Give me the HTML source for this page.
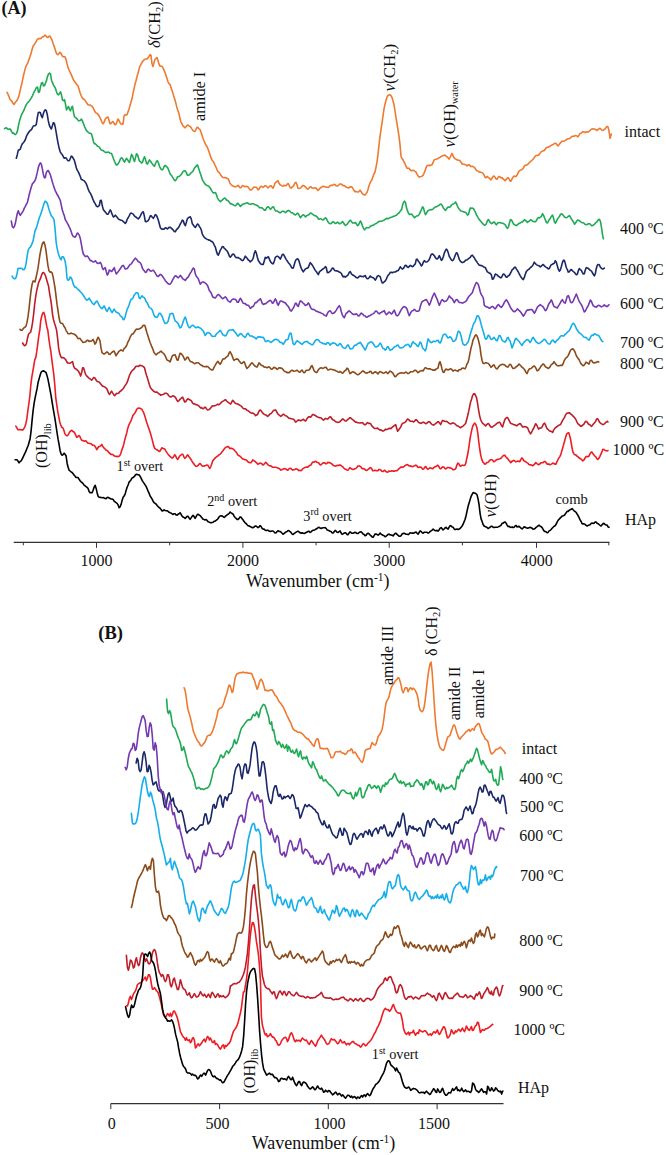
<!DOCTYPE html>
<html><head><meta charset="utf-8"><style>
html,body{margin:0;padding:0;background:#fff;}
svg{display:block;}
text{font-family:"Liberation Serif",serif;fill:#111;}
</style></head><body>
<svg width="666" height="1155" viewBox="0 0 666 1155">
<rect width="666" height="1155" fill="#fff"/>
<polyline points="7.0,92.4 8.0,94.1 9.0,96.8 10.0,99.5 11.0,100.4 12.0,101.5 13.0,103.3 14.0,104.5 15.0,102.8 16.0,101.6 17.0,100.3 18.0,98.4 19.0,95.9 20.0,91.1 21.0,86.9 22.0,82.7 23.0,77.8 24.0,73.5 25.0,69.4 26.0,66.3 27.0,64.4 28.0,62.3 29.0,59.3 30.0,56.7 31.0,53.6 32.0,49.8 33.0,46.3 34.0,45.0 35.0,43.4 36.0,41.8 37.0,39.8 38.0,38.8 39.0,38.6 40.0,38.6 41.0,38.4 42.0,37.3 43.0,36.7 44.0,36.3 45.0,35.1 46.0,35.9 47.0,37.2 48.0,37.4 49.0,36.3 50.0,36.0 51.0,38.2 52.0,40.1 53.0,43.2 54.0,46.1 55.0,49.0 56.0,52.2 57.0,54.1 58.0,54.7 59.0,53.6 60.0,52.3 61.0,53.4 62.0,55.4 63.0,56.7 64.0,56.8 65.0,56.9 66.0,59.2 67.0,63.5 68.0,67.4 69.0,69.8 70.0,72.0 71.0,74.2 72.0,76.4 73.0,78.9 74.0,80.8 75.0,82.0 76.0,83.5 77.0,84.9 78.0,85.8 79.0,89.0 80.0,92.4 81.0,95.3 82.0,97.2 83.0,98.7 84.0,99.2 85.0,100.2 86.0,102.0 87.0,103.3 88.0,104.7 89.0,105.0 90.0,105.1 91.0,105.5 92.0,106.3 93.0,107.6 94.0,109.6 95.0,111.8 96.0,112.9 97.0,113.4 98.0,114.3 99.0,115.8 100.0,117.7 101.0,119.8 102.0,122.3 103.0,123.9 104.0,122.4 105.0,119.7 106.0,118.0 107.0,117.6 108.0,117.0 109.0,120.3 110.0,123.7 111.0,123.5 112.0,122.1 113.0,121.5 114.0,123.3 115.0,124.8 116.0,124.3 117.0,121.7 118.0,119.0 119.0,120.4 120.0,122.8 121.0,124.0 122.0,124.0 123.0,124.2 124.0,116.4 125.0,114.6 126.0,115.1 127.0,114.7 128.0,111.9 129.0,109.3 130.0,105.4 131.0,102.1 132.0,98.8 133.0,93.4 134.0,89.0 135.0,84.4 136.0,80.7 137.0,76.5 138.0,73.3 139.0,69.3 140.0,66.1 141.0,64.4 142.0,62.3 143.0,61.0 144.0,59.9 145.0,59.3 146.0,59.0 147.0,59.0 148.0,57.7 149.0,56.4 150.0,54.5 151.0,55.3 152.0,63.8 153.0,66.6 154.0,62.6 155.0,59.5 156.0,58.3 157.0,57.5 158.0,60.6 159.0,64.2 160.0,66.0 161.0,66.2 162.0,66.4 163.0,67.9 164.0,70.1 165.0,72.5 166.0,75.4 167.0,78.6 168.0,81.8 169.0,83.6 170.0,84.3 171.0,87.5 172.0,90.5 173.0,93.4 174.0,97.1 175.0,100.0 176.0,103.9 177.0,107.9 178.0,110.7 179.0,113.7 180.0,118.8 181.0,122.0 182.0,123.9 183.0,126.1 184.0,126.7 185.0,127.8 186.0,126.8 187.0,125.4 188.0,125.0 189.0,126.0 190.0,126.3 191.0,127.5 192.0,129.1 193.0,130.6 194.0,131.2 195.0,131.5 196.0,129.4 197.0,127.4 198.0,127.6 199.0,128.9 200.0,129.4 201.0,132.2 202.0,135.3 203.0,138.2 204.0,140.8 205.0,143.1 206.0,145.3 207.0,146.5 208.0,149.0 209.0,151.8 210.0,154.7 211.0,157.7 212.0,159.9 213.0,161.2 214.0,162.8 215.0,165.4 216.0,167.2 217.0,169.6 218.0,171.7 219.0,172.2 220.0,173.6 221.0,175.5 222.0,176.7 223.0,177.5 224.0,177.7 225.0,177.6 226.0,177.7 227.0,178.3 228.0,178.7 229.0,180.5 230.0,183.1 231.0,184.5 232.0,185.5 233.0,186.1 234.0,186.4 235.0,186.9 236.0,186.6 237.0,186.0 238.0,185.3 239.0,186.5 240.0,187.8 241.0,187.7 242.0,185.9 243.0,185.6 244.0,186.3 245.0,186.7 246.0,186.4 247.0,186.5 248.0,187.0 249.0,188.4 250.0,189.9 251.0,190.0 252.0,189.4 253.0,188.0 254.0,187.1 255.0,187.2 256.0,187.3 257.0,187.9 258.0,189.8 259.0,189.2 260.0,187.3 261.0,186.2 262.0,186.6 263.0,187.5 264.0,186.6 265.0,185.7 266.0,185.8 267.0,186.8 268.0,188.0 269.0,187.1 270.0,185.9 271.0,185.7 272.0,187.1 273.0,188.1 274.0,186.1 275.0,183.3 276.0,182.1 277.0,181.5 278.0,180.7 279.0,183.3 280.0,184.8 281.0,185.2 282.0,186.0 283.0,186.2 284.0,185.2 285.0,185.8 286.0,185.7 287.0,184.6 288.0,183.4 289.0,185.1 290.0,187.2 291.0,188.2 292.0,187.2 293.0,186.4 294.0,185.1 295.0,182.8 296.0,182.4 297.0,184.7 298.0,188.2 299.0,188.5 300.0,188.2 301.0,187.6 302.0,186.4 303.0,185.4 304.0,185.8 305.0,186.5 306.0,187.6 307.0,188.8 308.0,189.3 309.0,188.1 310.0,186.9 311.0,186.7 312.0,187.9 313.0,188.2 314.0,188.0 315.0,187.9 316.0,188.0 317.0,189.3 318.0,190.5 319.0,189.4 320.0,188.2 321.0,187.5 322.0,187.0 323.0,186.2 324.0,186.5 325.0,186.8 326.0,187.3 327.0,187.3 328.0,187.4 329.0,187.0 330.0,185.7 331.0,185.3 332.0,185.4 333.0,185.0 334.0,184.3 335.0,184.5 336.0,185.8 337.0,186.1 338.0,185.7 339.0,184.7 340.0,184.0 341.0,184.0 342.0,184.6 343.0,185.6 344.0,185.5 345.0,186.2 346.0,187.1 347.0,187.4 348.0,187.8 349.0,187.9 350.0,186.9 351.0,186.7 352.0,187.1 353.0,188.5 354.0,190.5 355.0,191.6 356.0,191.4 357.0,191.8 358.0,192.1 359.0,191.3 360.0,190.2 361.0,191.5 362.0,193.1 363.0,194.2 364.0,194.9 365.0,194.9 366.0,193.8 367.0,192.4 368.0,189.5 369.0,185.8 370.0,183.2 371.0,181.0 372.0,179.8 373.0,176.3 374.0,173.8 375.0,172.0 376.0,167.3 377.0,161.8 378.0,154.4 379.0,145.1 380.0,136.4 381.0,129.7 382.0,123.2 383.0,116.1 384.0,108.9 385.0,104.2 386.0,100.2 387.0,97.2 388.0,95.5 389.0,94.9 390.0,94.9 391.0,95.7 392.0,97.5 393.0,100.7 394.0,104.5 395.0,111.0 396.0,117.5 397.0,123.7 398.0,129.8 399.0,136.4 400.0,144.6 401.0,156.3 402.0,158.5 403.0,159.8 404.0,162.0 405.0,163.7 406.0,166.1 407.0,168.1 408.0,168.3 409.0,168.3 410.0,169.7 411.0,170.6 412.0,170.6 413.0,170.3 414.0,170.5 415.0,171.3 416.0,172.0 417.0,174.1 418.0,175.7 419.0,177.1 420.0,176.7 421.0,176.5 422.0,176.2 423.0,175.4 424.0,173.3 425.0,170.9 426.0,167.8 427.0,165.7 428.0,165.2 429.0,165.4 430.0,165.6 431.0,165.0 432.0,164.8 433.0,162.7 434.0,160.1 435.0,159.5 436.0,159.3 437.0,159.0 438.0,158.4 439.0,157.8 440.0,157.4 441.0,156.6 442.0,156.0 443.0,155.9 444.0,155.3 445.0,155.1 446.0,156.1 447.0,156.8 448.0,157.7 449.0,159.1 450.0,157.6 451.0,155.3 452.0,153.4 453.0,155.6 454.0,157.7 455.0,158.6 456.0,159.3 457.0,159.7 458.0,160.2 459.0,160.2 460.0,160.8 461.0,162.3 462.0,163.7 463.0,164.3 464.0,164.2 465.0,164.6 466.0,164.9 467.0,165.9 468.0,165.2 469.0,164.6 470.0,165.7 471.0,166.6 472.0,166.3 473.0,166.6 474.0,167.1 475.0,168.1 476.0,169.8 477.0,170.7 478.0,171.1 479.0,171.9 480.0,172.1 481.0,172.5 482.0,172.5 483.0,173.4 484.0,174.9 485.0,177.1 486.0,177.8 487.0,176.4 488.0,177.2 489.0,177.9 490.0,178.8 491.0,179.9 492.0,178.2 493.0,176.7 494.0,176.0 495.0,177.2 496.0,178.9 497.0,179.3 498.0,177.6 499.0,176.4 500.0,176.9 501.0,177.9 502.0,177.6 503.0,178.9 504.0,179.7 505.0,180.8 506.0,179.6 507.0,178.5 508.0,177.6 509.0,178.9 510.0,180.9 511.0,181.1 512.0,179.0 513.0,177.2 514.0,176.1 515.0,176.4 516.0,176.5 517.0,175.2 518.0,173.2 519.0,171.1 520.0,170.4 521.0,169.9 522.0,169.5 523.0,168.6 524.0,166.7 525.0,165.4 526.0,165.3 527.0,164.8 528.0,164.1 529.0,163.1 530.0,161.9 531.0,161.3 532.0,160.3 533.0,159.2 534.0,157.9 535.0,156.5 536.0,155.5 537.0,155.4 538.0,155.2 539.0,154.8 540.0,153.4 541.0,151.9 542.0,151.4 543.0,150.8 544.0,150.6 545.0,149.6 546.0,148.0 547.0,147.4 548.0,147.4 549.0,146.8 550.0,146.2 551.0,145.6 552.0,144.9 553.0,144.5 554.0,143.9 555.0,143.3 556.0,143.4 557.0,144.9 558.0,146.0 559.0,144.8 560.0,143.4 561.0,142.1 562.0,141.2 563.0,141.3 564.0,141.1 565.0,140.6 566.0,140.0 567.0,139.2 568.0,138.8 569.0,138.7 570.0,138.2 571.0,137.3 572.0,136.3 573.0,136.4 574.0,136.3 575.0,135.6 576.0,135.8 577.0,136.0 578.0,136.8 579.0,135.2 580.0,133.5 581.0,133.2 582.0,132.4 583.0,131.8 584.0,132.1 585.0,132.5 586.0,132.0 587.0,131.8 588.0,132.0 589.0,131.5 590.0,130.5 591.0,129.7 592.0,129.0 593.0,128.9 594.0,129.0 595.0,129.2 596.0,129.8 597.0,130.5 598.0,129.5 599.0,128.8 600.0,128.3 601.0,129.2 602.0,130.2 603.0,130.5 604.0,129.7 605.0,129.0 606.0,127.6 607.0,126.4 608.0,126.9 609.0,130.9 610.0,138.3 611.0,135.2 611.3,134.1" fill="none" stroke="#EE7A30" stroke-width="1.6" stroke-linejoin="round" stroke-linecap="round"/>
<polyline points="4.5,128.6 5.5,128.0 6.5,127.9 7.5,129.0 8.5,129.4 9.5,128.9 10.5,129.3 11.5,131.4 12.5,133.2 13.5,132.9 14.5,134.3 15.5,134.6 16.5,133.4 17.5,130.9 18.5,125.3 19.5,120.9 20.5,117.7 21.5,114.8 22.5,112.8 23.5,111.2 24.5,108.7 25.5,106.4 26.5,104.4 27.5,102.9 28.5,101.8 29.5,100.7 30.5,99.1 31.5,97.7 32.5,95.6 33.5,93.3 34.5,91.1 35.5,89.3 36.5,87.4 37.5,87.1 38.5,92.5 39.5,91.8 40.5,86.6 41.5,83.0 42.5,82.5 43.5,85.9 44.5,85.6 45.5,83.0 46.5,80.6 47.5,76.4 48.5,74.1 49.5,73.0 50.5,73.8 51.5,80.2 52.5,82.6 53.5,85.1 54.5,86.7 55.5,88.5 56.5,91.7 57.5,94.2 58.5,94.8 59.5,93.5 60.5,91.8 61.5,95.1 62.5,100.0 63.5,100.7 64.5,99.7 65.5,104.1 66.5,109.9 67.5,108.1 68.5,106.5 69.5,109.4 70.5,110.9 71.5,107.4 72.5,106.4 73.5,112.3 74.5,116.9 75.5,117.4 76.5,118.3 77.5,119.5 78.5,120.7 79.5,120.8 80.5,120.1 81.5,119.1 82.5,121.1 83.5,123.7 84.5,126.6 85.5,128.7 86.5,130.7 87.5,131.6 88.5,132.5 89.5,133.3 90.5,133.3 91.5,134.0 92.5,137.5 93.5,141.8 94.5,143.8 95.5,143.9 96.5,145.1 97.5,146.3 98.5,146.5 99.5,147.4 100.5,149.0 101.5,150.1 102.5,150.4 103.5,150.7 104.5,151.9 105.5,152.4 106.5,152.4 107.5,152.3 108.5,152.0 109.5,152.9 110.5,153.2 111.5,153.5 112.5,156.0 113.5,158.8 114.5,161.3 115.5,163.5 116.5,165.1 117.5,164.6 118.5,163.1 119.5,161.3 120.5,158.8 121.5,157.7 122.5,158.5 123.5,160.7 124.5,162.1 125.5,160.2 126.5,158.4 127.5,159.5 128.5,161.4 129.5,162.4 130.5,158.5 131.5,154.4 132.5,155.7 133.5,159.1 134.5,161.5 135.5,157.6 136.5,153.8 137.5,154.6 138.5,158.0 139.5,161.2 140.5,161.6 141.5,163.0 142.5,162.3 143.5,159.0 144.5,156.8 145.5,159.6 146.5,163.3 147.5,164.1 148.5,161.8 149.5,159.9 150.5,161.2 151.5,162.7 152.5,164.1 153.5,165.5 154.5,166.3 155.5,163.5 156.5,161.2 157.5,160.8 158.5,163.1 159.5,166.3 160.5,168.3 161.5,169.7 162.5,169.8 163.5,168.1 164.5,165.7 165.5,165.4 166.5,166.8 167.5,167.3 168.5,169.7 169.5,172.3 170.5,174.6 171.5,175.3 172.5,177.1 173.5,178.6 174.5,180.4 175.5,180.7 176.5,179.1 177.5,176.8 178.5,176.7 179.5,176.1 180.5,175.3 181.5,174.2 182.5,172.3 183.5,171.2 184.5,170.8 185.5,171.0 186.5,173.1 187.5,175.3 188.5,175.1 189.5,174.7 190.5,173.4 191.5,172.2 192.5,172.0 193.5,170.1 194.5,168.1 195.5,166.9 196.5,165.9 197.5,164.9 198.5,167.9 199.5,171.0 200.5,174.1 201.5,177.1 202.5,180.1 203.5,181.7 204.5,183.4 205.5,184.5 206.5,185.1 207.5,185.7 208.5,186.0 209.5,187.2 210.5,188.5 211.5,190.3 212.5,191.9 213.5,193.1 214.5,192.7 215.5,192.5 216.5,194.9 217.5,198.1 218.5,199.7 219.5,200.8 220.5,201.6 221.5,200.6 222.5,199.9 223.5,198.8 224.5,198.1 225.5,198.5 226.5,200.1 227.5,200.3 228.5,201.2 229.5,202.5 230.5,203.9 231.5,203.8 232.5,204.4 233.5,205.1 234.5,205.4 235.5,205.8 236.5,204.8 237.5,203.3 238.5,203.8 239.5,205.4 240.5,206.4 241.5,205.4 242.5,204.2 243.5,204.0 244.5,203.9 245.5,203.3 246.5,203.0 247.5,202.8 248.5,203.7 249.5,204.1 250.5,204.4 251.5,203.9 252.5,203.7 253.5,203.7 254.5,204.4 255.5,204.7 256.5,205.4 257.5,205.6 258.5,206.4 259.5,207.8 260.5,207.8 261.5,207.7 262.5,208.3 263.5,209.3 264.5,210.2 265.5,210.2 266.5,208.0 267.5,206.8 268.5,206.9 269.5,208.1 270.5,209.3 271.5,208.2 272.5,207.0 273.5,206.8 274.5,209.0 275.5,211.0 276.5,211.0 277.5,211.1 278.5,211.8 279.5,212.7 280.5,212.7 281.5,211.8 282.5,211.2 283.5,211.2 284.5,211.7 285.5,212.7 286.5,211.7 287.5,210.8 288.5,210.4 289.5,210.9 290.5,212.0 291.5,212.8 292.5,212.9 293.5,213.7 294.5,214.6 295.5,214.9 296.5,214.1 297.5,213.1 298.5,214.0 299.5,216.3 300.5,217.7 301.5,216.2 302.5,215.2 303.5,214.8 304.5,215.8 305.5,216.9 306.5,215.8 307.5,215.4 308.5,214.8 309.5,214.3 310.5,213.0 311.5,213.2 312.5,214.2 313.5,215.0 314.5,215.4 315.5,215.8 316.5,216.4 317.5,217.4 318.5,219.2 319.5,219.1 320.5,218.6 321.5,219.1 322.5,220.0 323.5,219.7 324.5,218.5 325.5,217.8 326.5,218.8 327.5,220.8 328.5,222.6 329.5,223.5 330.5,223.7 331.5,223.3 332.5,221.9 333.5,221.9 334.5,222.8 335.5,223.5 336.5,223.0 337.5,222.0 338.5,222.9 339.5,223.8 340.5,223.5 341.5,222.6 342.5,221.6 343.5,222.7 344.5,224.5 345.5,225.4 346.5,224.6 347.5,223.8 348.5,222.2 349.5,220.9 350.5,220.2 351.5,221.6 352.5,223.0 353.5,223.0 354.5,222.9 355.5,222.5 356.5,224.1 357.5,225.7 358.5,225.0 359.5,222.8 360.5,221.0 361.5,223.1 362.5,226.1 363.5,228.2 364.5,229.8 365.5,228.8 366.5,227.6 367.5,227.7 368.5,227.7 369.5,227.4 370.5,226.0 371.5,225.9 372.5,225.3 373.5,225.2 374.5,224.4 375.5,223.7 376.5,223.4 377.5,222.5 378.5,221.8 379.5,221.2 380.5,221.3 381.5,221.3 382.5,221.0 383.5,220.2 384.5,219.9 385.5,219.0 386.5,218.4 387.5,218.6 388.5,218.6 389.5,217.9 390.5,217.5 391.5,217.3 392.5,216.8 393.5,216.2 394.5,216.1 395.5,215.6 396.5,215.2 397.5,214.0 398.5,213.4 399.5,212.3 400.5,210.7 401.5,209.8 402.5,205.6 403.5,202.4 404.5,201.2 405.5,202.4 406.5,207.8 407.5,210.9 408.5,213.2 409.5,214.6 410.5,214.3 411.5,214.0 412.5,215.2 413.5,216.4 414.5,217.7 415.5,216.8 416.5,216.0 417.5,215.8 418.5,215.4 419.5,213.9 420.5,211.6 421.5,209.5 422.5,206.9 423.5,207.9 424.5,212.0 425.5,214.6 426.5,213.2 427.5,211.2 428.5,210.5 429.5,210.0 430.5,209.7 431.5,209.6 432.5,209.5 433.5,208.5 434.5,207.6 435.5,206.9 436.5,206.7 437.5,206.1 438.5,205.7 439.5,204.9 440.5,204.1 441.5,204.5 442.5,206.2 443.5,208.2 444.5,209.2 445.5,210.4 446.5,209.0 447.5,207.3 448.5,207.1 449.5,207.5 450.5,206.5 451.5,205.0 452.5,204.2 453.5,203.9 454.5,203.4 455.5,202.0 456.5,203.7 457.5,206.3 458.5,208.2 459.5,209.4 460.5,210.8 461.5,211.1 462.5,211.5 463.5,211.7 464.5,212.3 465.5,212.2 466.5,213.5 467.5,215.1 468.5,214.3 469.5,210.4 470.5,207.9 471.5,208.2 472.5,208.1 473.5,208.7 474.5,210.7 475.5,212.3 476.5,215.0 477.5,216.5 478.5,218.5 479.5,219.9 480.5,221.0 481.5,222.2 482.5,223.4 483.5,224.5 484.5,225.1 485.5,224.9 486.5,223.3 487.5,220.4 488.5,219.6 489.5,221.3 490.5,222.7 491.5,223.6 492.5,223.2 493.5,222.1 494.5,222.1 495.5,224.0 496.5,224.8 497.5,223.1 498.5,222.7 499.5,222.6 500.5,222.8 501.5,223.0 502.5,223.2 503.5,223.6 504.5,224.2 505.5,225.3 506.5,227.2 507.5,228.4 508.5,226.8 509.5,222.8 510.5,219.5 511.5,219.9 512.5,221.8 513.5,224.0 514.5,224.6 515.5,225.3 516.5,225.6 517.5,224.7 518.5,223.8 519.5,223.3 520.5,222.8 521.5,222.0 522.5,221.9 523.5,220.9 524.5,219.7 525.5,220.4 526.5,221.4 527.5,222.4 528.5,221.5 529.5,221.0 530.5,219.8 531.5,220.1 532.5,221.3 533.5,221.5 534.5,221.6 535.5,221.7 536.5,220.4 537.5,218.4 538.5,217.5 539.5,217.9 540.5,217.1 541.5,216.1 542.5,213.7 543.5,215.2 544.5,217.8 545.5,220.1 546.5,222.6 547.5,223.0 548.5,221.0 549.5,219.2 550.5,217.9 551.5,216.2 552.5,215.1 553.5,218.1 554.5,222.0 555.5,223.2 556.5,221.2 557.5,219.1 558.5,217.6 559.5,216.4 560.5,214.4 561.5,213.8 562.5,214.4 563.5,215.6 564.5,217.0 565.5,217.5 566.5,217.8 567.5,217.0 568.5,216.2 569.5,215.7 570.5,217.4 571.5,219.2 572.5,220.5 573.5,222.2 574.5,224.2 575.5,223.0 576.5,221.5 577.5,220.1 578.5,220.2 579.5,220.8 580.5,221.7 581.5,222.4 582.5,222.7 583.5,222.8 584.5,223.8 585.5,224.5 586.5,224.8 587.5,224.3 588.5,223.7 589.5,223.8 590.5,224.4 591.5,225.8 592.5,225.6 593.5,225.0 594.5,224.2 595.5,223.0 596.5,222.1 597.5,221.2 598.5,219.5 599.5,219.4 600.5,221.6 601.5,227.6 602.5,234.6 603.4,238.8" fill="none" stroke="#1FAA55" stroke-width="1.6" stroke-linejoin="round" stroke-linecap="round"/>
<polyline points="16.3,158.2 17.3,154.7 18.3,150.1 19.3,149.9 20.3,149.1 21.3,146.0 22.3,143.8 23.3,142.7 24.3,141.5 25.3,139.7 26.3,136.7 27.3,134.5 28.3,133.0 29.3,131.5 30.3,130.4 31.3,129.8 32.3,128.0 33.3,126.0 34.3,125.7 35.3,125.6 36.3,124.4 37.3,117.6 38.3,112.6 39.3,112.4 40.3,112.5 41.3,115.8 42.3,117.7 43.3,113.8 44.3,111.0 45.3,109.8 46.3,110.7 47.3,114.7 48.3,120.9 49.3,125.1 50.3,127.4 51.3,129.0 52.3,125.9 53.3,122.8 54.3,123.3 55.3,127.4 56.3,133.1 57.3,139.1 58.3,144.3 59.3,148.8 60.3,152.1 61.3,153.5 62.3,154.7 63.3,156.7 64.3,158.2 65.3,157.8 66.3,158.0 67.3,160.0 68.3,160.8 69.3,160.8 70.3,158.5 71.3,156.1 72.3,156.7 73.3,158.5 74.3,160.2 75.3,163.7 76.3,167.8 77.3,170.4 78.3,171.9 79.3,174.1 80.3,176.5 81.3,179.4 82.3,179.7 83.3,180.4 84.3,180.9 85.3,182.2 86.3,183.9 87.3,186.5 88.3,189.4 89.3,191.7 90.3,193.1 91.3,195.1 92.3,197.6 93.3,200.1 94.3,202.4 95.3,203.8 96.3,205.8 97.3,206.7 98.3,206.5 99.3,205.5 100.3,200.5 101.3,200.4 102.3,205.8 103.3,209.6 104.3,210.9 105.3,212.0 106.3,213.4 107.3,214.3 108.3,214.0 109.3,211.7 110.3,209.9 111.3,211.9 112.3,214.7 113.3,216.9 114.3,216.6 115.3,215.2 116.3,216.3 117.3,217.5 118.3,218.9 119.3,219.6 120.3,219.9 121.3,220.3 122.3,220.5 123.3,221.7 124.3,222.4 125.3,223.5 126.3,221.9 127.3,219.1 128.3,217.5 129.3,215.6 130.3,213.5 131.3,213.1 132.3,213.6 133.3,214.1 134.3,215.8 135.3,216.7 136.3,217.3 137.3,218.3 138.3,218.9 139.3,217.8 140.3,216.2 141.3,213.9 142.3,212.4 143.3,211.8 144.3,215.9 145.3,221.4 146.3,221.7 147.3,221.1 148.3,220.5 149.3,218.3 150.3,215.9 151.3,215.9 152.3,217.2 153.3,218.3 154.3,216.6 155.3,214.6 156.3,215.1 157.3,217.4 158.3,220.0 159.3,223.8 160.3,227.5 161.3,228.9 162.3,229.1 163.3,229.1 164.3,228.9 165.3,227.7 166.3,228.0 167.3,229.0 168.3,228.1 169.3,227.2 170.3,227.4 171.3,228.2 172.3,229.1 173.3,230.1 174.3,231.5 175.3,231.8 176.3,229.9 177.3,228.9 178.3,227.9 179.3,226.1 180.3,223.9 181.3,222.3 182.3,220.2 183.3,220.7 184.3,224.0 185.3,225.7 186.3,222.5 187.3,218.9 188.3,217.7 189.3,217.2 190.3,216.8 191.3,219.1 192.3,223.7 193.3,225.0 194.3,226.5 195.3,227.5 196.3,226.0 197.3,224.0 198.3,224.4 199.3,226.5 200.3,227.7 201.3,230.0 202.3,234.0 203.3,235.9 204.3,237.3 205.3,238.2 206.3,238.9 207.3,239.4 208.3,239.9 209.3,240.1 210.3,240.5 211.3,241.4 212.3,241.6 213.3,243.0 214.3,245.3 215.3,247.0 216.3,250.7 217.3,254.1 218.3,255.1 219.3,252.9 220.3,250.1 221.3,248.6 222.3,246.6 223.3,246.7 224.3,248.4 225.3,249.1 226.3,250.2 227.3,251.2 228.3,253.4 229.3,255.9 230.3,257.2 231.3,256.0 232.3,254.5 233.3,254.0 234.3,254.9 235.3,256.8 236.3,257.8 237.3,257.6 238.3,257.6 239.3,258.4 240.3,258.9 241.3,259.9 242.3,260.6 243.3,260.2 244.3,258.4 245.3,256.2 246.3,257.3 247.3,258.5 248.3,260.0 249.3,260.7 250.3,261.9 251.3,260.8 252.3,260.0 253.3,257.7 254.3,253.3 255.3,250.8 256.3,252.9 257.3,257.0 258.3,260.5 259.3,262.0 260.3,263.5 261.3,264.3 262.3,264.4 263.3,264.4 264.3,260.8 265.3,257.3 266.3,258.2 267.3,257.5 268.3,256.7 269.3,258.9 270.3,261.3 271.3,262.7 272.3,263.6 273.3,263.8 274.3,261.0 275.3,257.4 276.3,256.6 277.3,256.1 278.3,256.6 279.3,257.7 280.3,259.1 281.3,256.9 282.3,254.5 283.3,254.2 284.3,255.8 285.3,257.9 286.3,259.6 287.3,261.0 288.3,262.7 289.3,263.7 290.3,265.1 291.3,266.9 292.3,268.2 293.3,268.0 294.3,264.6 295.3,261.1 296.3,259.4 297.3,258.9 298.3,259.3 299.3,262.0 300.3,265.6 301.3,268.3 302.3,270.3 303.3,271.8 304.3,270.4 305.3,269.1 306.3,268.4 307.3,268.3 308.3,267.4 309.3,264.9 310.3,262.7 311.3,263.7 312.3,265.2 313.3,266.8 314.3,268.6 315.3,270.5 316.3,271.5 317.3,273.2 318.3,274.6 319.3,272.1 320.3,271.0 321.3,270.4 322.3,269.4 323.3,268.8 324.3,268.0 325.3,266.6 326.3,267.6 327.3,272.5 328.3,272.7 329.3,272.0 330.3,271.2 331.3,269.8 332.3,268.1 333.3,268.2 334.3,270.0 335.3,270.8 336.3,270.9 337.3,271.0 338.3,271.5 339.3,272.1 340.3,272.5 341.3,273.3 342.3,275.6 343.3,276.9 344.3,276.3 345.3,277.1 346.3,276.4 347.3,275.7 348.3,274.5 349.3,272.3 350.3,271.7 351.3,273.7 352.3,274.7 353.3,275.3 354.3,275.9 355.3,276.6 356.3,277.6 357.3,277.9 358.3,277.6 359.3,276.3 360.3,276.0 361.3,276.4 362.3,276.5 363.3,276.8 364.3,275.9 365.3,275.6 366.3,277.8 367.3,278.8 368.3,278.4 369.3,277.5 370.3,276.0 371.3,277.1 372.3,277.4 373.3,277.7 374.3,278.8 375.3,280.1 376.3,278.3 377.3,276.1 378.3,275.6 379.3,276.1 380.3,276.9 381.3,280.6 382.3,283.0 383.3,282.8 384.3,281.7 385.3,281.0 386.3,279.1 387.3,276.7 388.3,275.1 389.3,274.0 390.3,272.4 391.3,272.3 392.3,272.7 393.3,272.2 394.3,272.0 395.3,272.0 396.3,271.3 397.3,270.8 398.3,270.5 399.3,268.7 400.3,266.8 401.3,268.0 402.3,269.0 403.3,268.5 404.3,267.0 405.3,265.2 406.3,265.5 407.3,267.0 408.3,267.4 409.3,266.4 410.3,265.4 411.3,266.0 412.3,266.7 413.3,266.3 414.3,264.9 415.3,263.9 416.3,259.3 417.3,259.2 418.3,261.2 419.3,262.3 420.3,264.0 421.3,266.0 422.3,264.9 423.3,262.3 424.3,260.6 425.3,261.8 426.3,262.0 427.3,261.8 428.3,260.8 429.3,259.5 430.3,256.7 431.3,254.2 432.3,253.9 433.3,254.6 434.3,255.7 435.3,257.5 436.3,258.8 437.3,258.9 438.3,257.7 439.3,255.6 440.3,257.8 441.3,260.3 442.3,259.6 443.3,256.7 444.3,253.1 445.3,250.7 446.3,249.2 447.3,250.1 448.3,252.9 449.3,256.5 450.3,258.0 451.3,259.9 452.3,260.7 453.3,260.0 454.3,257.8 455.3,255.0 456.3,252.8 457.3,253.2 458.3,256.2 459.3,259.4 460.3,261.1 461.3,262.0 462.3,262.6 463.3,262.2 464.3,261.8 465.3,260.5 466.3,260.1 467.3,259.7 468.3,258.9 469.3,258.0 470.3,257.4 471.3,255.7 472.3,255.1 473.3,256.5 474.3,257.8 475.3,259.7 476.3,261.0 477.3,262.6 478.3,264.1 479.3,265.3 480.3,265.4 481.3,265.6 482.3,265.9 483.3,266.7 484.3,267.2 485.3,267.6 486.3,269.7 487.3,271.9 488.3,272.4 489.3,273.2 490.3,273.4 491.3,274.7 492.3,279.1 493.3,278.9 494.3,276.6 495.3,274.0 496.3,274.6 497.3,275.0 498.3,276.3 499.3,276.8 500.3,277.7 501.3,277.7 502.3,275.8 503.3,274.0 504.3,274.2 505.3,275.8 506.3,277.3 507.3,276.9 508.3,275.8 509.3,275.3 510.3,273.5 511.3,271.7 512.3,269.5 513.3,269.1 514.3,267.4 515.3,267.0 516.3,268.9 517.3,270.4 518.3,272.0 519.3,274.0 520.3,275.8 521.3,277.5 522.3,278.8 523.3,279.6 524.3,277.4 525.3,274.3 526.3,271.6 527.3,270.4 528.3,269.7 529.3,269.0 530.3,267.6 531.3,267.0 532.3,266.0 533.3,264.3 534.3,262.2 535.3,263.4 536.3,264.6 537.3,265.1 538.3,265.6 539.3,265.9 540.3,266.9 541.3,266.1 542.3,265.2 543.3,264.5 544.3,265.8 545.3,266.7 546.3,267.5 547.3,267.8 548.3,269.0 549.3,268.5 550.3,266.3 551.3,264.7 552.3,264.3 553.3,263.8 554.3,263.1 555.3,260.7 556.3,262.1 557.3,265.7 558.3,269.2 559.3,271.2 560.3,270.0 561.3,266.8 562.3,262.9 563.3,260.3 564.3,260.3 565.3,263.6 566.3,267.5 567.3,269.5 568.3,272.1 569.3,271.8 570.3,270.2 571.3,269.5 572.3,270.6 573.3,271.5 574.3,272.3 575.3,273.6 576.3,274.7 577.3,274.4 578.3,270.7 579.3,268.7 580.3,269.6 581.3,270.4 582.3,272.3 583.3,274.0 584.3,273.8 585.3,270.0 586.3,267.6 587.3,268.1 588.3,268.2 589.3,269.4 590.3,270.4 591.3,270.9 592.3,272.5 593.3,274.3 594.3,275.8 595.3,273.8 596.3,268.4 597.3,265.2 598.3,264.5 599.3,264.8 600.3,267.0 601.3,268.1 602.3,269.0 603.3,268.9 604.3,268.1" fill="none" stroke="#1A2868" stroke-width="1.6" stroke-linejoin="round" stroke-linecap="round"/>
<polyline points="11.3,221.0 12.3,226.6 13.3,227.8 14.3,226.8 15.3,223.6 16.3,218.3 17.3,213.5 18.3,210.8 19.3,213.7 20.3,215.3 21.3,213.7 22.3,212.4 23.3,210.6 24.3,208.1 25.3,206.3 26.3,204.3 27.3,202.9 28.3,198.8 29.3,194.2 30.3,190.5 31.3,187.1 32.3,183.9 33.3,182.9 34.3,181.6 35.3,179.9 36.3,176.5 37.3,172.4 38.3,167.6 39.3,164.7 40.3,162.9 41.3,164.0 42.3,168.6 43.3,174.0 44.3,177.6 45.3,177.7 46.3,172.7 47.3,171.0 48.3,170.5 49.3,172.6 50.3,174.7 51.3,178.0 52.3,181.8 53.3,185.0 54.3,187.9 55.3,190.8 56.3,192.7 57.3,194.8 58.3,196.3 59.3,198.3 60.3,200.5 61.3,205.3 62.3,210.0 63.3,213.1 64.3,215.8 65.3,219.7 66.3,221.4 67.3,223.2 68.3,224.9 69.3,227.1 70.3,229.1 71.3,232.0 72.3,234.9 73.3,236.5 74.3,236.7 75.3,237.2 76.3,235.2 77.3,233.0 78.3,233.7 79.3,235.3 80.3,238.4 81.3,243.8 82.3,249.7 83.3,254.0 84.3,255.2 85.3,256.6 86.3,256.3 87.3,256.0 88.3,257.2 89.3,258.8 90.3,260.6 91.3,260.6 92.3,261.4 93.3,262.0 94.3,261.8 95.3,260.8 96.3,262.0 97.3,263.3 98.3,263.5 99.3,263.1 100.3,262.3 101.3,264.1 102.3,267.8 103.3,269.6 104.3,268.4 105.3,267.7 106.3,271.7 107.3,275.1 108.3,273.5 109.3,270.0 110.3,270.4 111.3,271.5 112.3,270.8 113.3,269.0 114.3,267.6 115.3,271.3 116.3,273.9 117.3,272.7 118.3,271.5 119.3,270.1 120.3,268.8 121.3,267.1 122.3,265.8 123.3,265.4 124.3,267.2 125.3,269.1 126.3,268.8 127.3,268.4 128.3,267.1 129.3,265.5 130.3,264.4 131.3,263.9 132.3,262.3 133.3,260.7 134.3,259.4 135.3,258.2 136.3,259.0 137.3,260.2 138.3,261.7 139.3,262.0 140.3,262.8 141.3,264.7 142.3,267.9 143.3,269.8 144.3,270.8 145.3,272.4 146.3,272.1 147.3,270.1 148.3,269.1 149.3,269.7 150.3,270.9 151.3,271.1 152.3,270.6 153.3,270.3 154.3,271.6 155.3,273.0 156.3,274.9 157.3,276.3 158.3,276.4 159.3,275.4 160.3,274.4 161.3,274.9 162.3,276.0 163.3,277.5 164.3,278.9 165.3,280.7 166.3,281.8 167.3,282.9 168.3,283.8 169.3,284.2 170.3,284.0 171.3,282.6 172.3,280.7 173.3,278.7 174.3,277.1 175.3,275.8 176.3,276.0 177.3,277.2 178.3,277.8 179.3,276.8 180.3,275.4 181.3,276.5 182.3,278.2 183.3,279.1 184.3,279.7 185.3,280.5 186.3,278.9 187.3,277.9 188.3,276.9 189.3,274.9 190.3,273.2 191.3,271.6 192.3,269.6 193.3,268.0 194.3,268.8 195.3,273.8 196.3,276.2 197.3,277.4 198.3,278.8 199.3,281.6 200.3,284.1 201.3,283.0 202.3,282.0 203.3,282.0 204.3,282.4 205.3,283.2 206.3,283.9 207.3,285.2 208.3,287.4 209.3,290.5 210.3,291.8 211.3,293.2 212.3,296.0 213.3,297.5 214.3,297.5 215.3,298.0 216.3,296.6 217.3,295.1 218.3,294.5 219.3,295.1 220.3,296.2 221.3,297.4 222.3,298.6 223.3,298.4 224.3,297.6 225.3,296.8 226.3,297.8 227.3,299.7 228.3,301.1 229.3,301.6 230.3,302.2 231.3,300.5 232.3,299.5 233.3,299.1 234.3,299.3 235.3,299.3 236.3,300.4 237.3,302.3 238.3,302.3 239.3,300.1 240.3,298.3 241.3,299.6 242.3,301.7 243.3,303.3 244.3,303.6 245.3,303.6 246.3,304.7 247.3,305.3 248.3,305.2 249.3,306.5 250.3,308.5 251.3,307.6 252.3,306.6 253.3,306.5 254.3,304.5 255.3,302.5 256.3,302.6 257.3,301.6 258.3,300.5 259.3,299.8 260.3,298.7 261.3,300.7 262.3,303.5 263.3,304.5 264.3,303.9 265.3,303.9 266.3,303.1 267.3,302.3 268.3,301.5 269.3,300.8 270.3,300.2 271.3,301.2 272.3,303.1 273.3,303.0 274.3,300.8 275.3,298.8 276.3,300.6 277.3,303.8 278.3,305.3 279.3,302.9 280.3,301.0 281.3,301.0 282.3,301.4 283.3,302.0 284.3,302.6 285.3,302.7 286.3,304.2 287.3,305.4 288.3,306.5 289.3,308.3 290.3,310.6 291.3,311.1 292.3,309.3 293.3,308.3 294.3,306.0 295.3,303.3 296.3,303.4 297.3,305.6 298.3,306.4 299.3,303.2 300.3,300.9 301.3,301.3 302.3,302.2 303.3,303.3 304.3,304.1 305.3,305.4 306.3,305.1 307.3,304.5 308.3,302.9 309.3,304.3 310.3,307.0 311.3,308.6 312.3,309.5 313.3,309.3 314.3,309.7 315.3,310.5 316.3,311.3 317.3,311.4 318.3,312.1 319.3,312.4 320.3,312.5 321.3,313.1 322.3,313.6 323.3,314.1 324.3,315.2 325.3,315.6 326.3,316.1 327.3,313.6 328.3,311.9 329.3,311.0 330.3,310.9 331.3,312.4 332.3,313.6 333.3,313.3 334.3,312.7 335.3,311.6 336.3,310.1 337.3,308.3 338.3,307.1 339.3,305.6 340.3,307.3 341.3,311.7 342.3,314.8 343.3,316.7 344.3,317.7 345.3,315.3 346.3,313.0 347.3,312.7 348.3,311.2 349.3,310.9 350.3,311.8 351.3,312.8 352.3,313.8 353.3,314.4 354.3,314.3 355.3,314.4 356.3,313.8 357.3,314.7 358.3,315.9 359.3,315.8 360.3,314.1 361.3,313.1 362.3,313.8 363.3,314.9 364.3,315.8 365.3,316.0 366.3,317.2 367.3,317.0 368.3,316.3 369.3,315.7 370.3,315.4 371.3,314.7 372.3,314.1 373.3,313.6 374.3,312.9 375.3,311.3 376.3,311.0 377.3,312.0 378.3,313.4 379.3,313.9 380.3,312.8 381.3,312.4 382.3,311.8 383.3,311.2 384.3,310.7 385.3,313.1 386.3,314.7 387.3,313.9 388.3,312.7 389.3,312.0 390.3,312.9 391.3,314.0 392.3,313.3 393.3,311.3 394.3,310.2 395.3,312.9 396.3,315.5 397.3,315.8 398.3,315.1 399.3,313.3 400.3,311.4 401.3,309.5 402.3,308.1 403.3,307.0 404.3,306.6 405.3,307.2 406.3,307.8 407.3,309.9 408.3,313.3 409.3,315.7 410.3,313.6 411.3,311.7 412.3,310.7 413.3,310.4 414.3,309.4 415.3,310.2 416.3,311.2 417.3,311.2 418.3,311.1 419.3,310.6 420.3,306.4 421.3,303.2 422.3,301.5 423.3,300.8 424.3,300.5 425.3,300.0 426.3,299.5 427.3,301.1 428.3,303.0 429.3,305.2 430.3,303.0 431.3,300.0 432.3,297.4 433.3,295.0 434.3,293.0 435.3,295.1 436.3,297.7 437.3,299.7 438.3,302.8 439.3,305.3 440.3,303.2 441.3,300.8 442.3,299.6 443.3,300.7 444.3,301.6 445.3,301.2 446.3,301.0 447.3,299.6 448.3,297.8 449.3,295.9 450.3,297.1 451.3,298.1 452.3,298.9 453.3,300.6 454.3,302.7 455.3,300.9 456.3,299.5 457.3,299.7 458.3,301.4 459.3,302.5 460.3,302.5 461.3,302.7 462.3,303.1 463.3,302.8 464.3,302.1 465.3,301.7 466.3,300.8 467.3,299.0 468.3,297.3 469.3,295.9 470.3,295.0 471.3,293.7 472.3,292.7 473.3,289.8 474.3,287.0 475.3,284.5 476.3,282.5 477.3,283.2 478.3,284.4 479.3,288.0 480.3,292.0 481.3,294.6 482.3,296.0 483.3,298.0 484.3,305.3 485.3,306.1 486.3,306.9 487.3,307.1 488.3,307.4 489.3,308.3 490.3,308.0 491.3,306.9 492.3,306.4 493.3,307.0 494.3,308.2 495.3,308.9 496.3,307.3 497.3,305.8 498.3,304.5 499.3,305.4 500.3,306.7 501.3,307.4 502.3,306.3 503.3,304.7 504.3,302.4 505.3,301.0 506.3,299.8 507.3,301.1 508.3,302.9 509.3,304.9 510.3,307.1 511.3,308.8 512.3,310.1 513.3,311.2 514.3,311.7 515.3,311.2 516.3,310.2 517.3,308.9 518.3,309.7 519.3,310.7 520.3,311.6 521.3,313.0 522.3,314.5 523.3,316.2 524.3,314.8 525.3,313.2 526.3,311.2 527.3,309.9 528.3,310.2 529.3,309.6 530.3,309.7 531.3,309.4 532.3,310.0 533.3,311.5 534.3,313.2 535.3,311.7 536.3,309.5 537.3,307.3 538.3,306.2 539.3,305.5 540.3,304.7 541.3,305.6 542.3,306.1 543.3,307.1 544.3,308.8 545.3,310.7 546.3,310.0 547.3,307.7 548.3,305.1 549.3,303.2 550.3,301.9 551.3,299.9 552.3,301.9 553.3,304.9 554.3,306.8 555.3,307.0 556.3,307.6 557.3,308.0 558.3,306.2 559.3,304.6 560.3,302.8 561.3,300.9 562.3,299.7 563.3,301.4 564.3,302.8 565.3,303.1 566.3,299.5 567.3,296.3 568.3,295.5 569.3,297.9 570.3,301.4 571.3,302.7 572.3,302.4 573.3,300.9 574.3,298.5 575.3,296.2 576.3,294.0 577.3,296.5 578.3,299.2 579.3,301.5 580.3,303.1 581.3,304.6 582.3,306.6 583.3,309.5 584.3,311.9 585.3,311.1 586.3,309.0 587.3,307.1 588.3,305.5 589.3,302.9 590.3,300.1 591.3,301.1 592.3,303.7 593.3,305.8 594.3,306.4 595.3,307.0 596.3,307.1 597.3,306.1 598.3,305.4 599.3,305.5 600.3,306.1 601.3,306.9 602.3,306.4 603.3,305.9 604.3,304.9 605.3,305.8 606.3,306.4 607.3,306.5 608.3,305.4 609.0,304.7" fill="none" stroke="#7538AE" stroke-width="1.6" stroke-linejoin="round" stroke-linecap="round"/>
<polyline points="12.1,276.2 13.1,277.8 14.1,278.7 15.1,278.7 16.1,277.4 17.1,273.2 18.1,268.3 19.1,268.5 20.1,268.3 21.1,268.4 22.1,268.5 23.1,269.8 24.1,269.7 25.1,267.9 26.1,263.4 27.1,256.4 28.1,250.5 29.1,248.2 30.1,247.4 31.1,245.7 32.1,243.4 33.1,240.9 34.1,235.3 35.1,230.6 36.1,228.4 37.1,225.4 38.1,222.1 39.1,218.3 40.1,215.8 41.1,213.0 42.1,210.1 43.1,206.5 44.1,203.3 45.1,201.2 46.1,201.8 47.1,202.9 48.1,206.1 49.1,209.8 50.1,212.7 51.1,215.3 52.1,216.7 53.1,217.8 54.1,220.3 55.1,229.4 56.1,242.0 57.1,248.1 58.1,252.7 59.1,255.8 60.1,258.4 61.1,259.8 62.1,256.7 63.1,256.7 64.1,258.3 65.1,261.3 66.1,267.1 67.1,278.7 68.1,280.2 69.1,279.6 70.1,277.0 71.1,277.6 72.1,279.9 73.1,283.6 74.1,285.8 75.1,287.2 76.1,287.4 77.1,288.5 78.1,289.4 79.1,290.3 80.1,291.6 81.1,292.4 82.1,293.6 83.1,295.0 84.1,296.5 85.1,298.2 86.1,299.5 87.1,300.2 88.1,299.4 89.1,298.2 90.1,299.7 91.1,301.2 92.1,302.9 93.1,303.8 94.1,304.6 95.1,303.0 96.1,301.5 97.1,301.0 98.1,303.0 99.1,305.3 100.1,306.7 101.1,307.9 102.1,308.7 103.1,307.3 104.1,305.9 105.1,307.6 106.1,310.3 107.1,311.5 108.1,309.5 109.1,307.4 110.1,308.9 111.1,311.2 112.1,312.6 113.1,310.8 114.1,309.1 115.1,310.8 116.1,312.0 117.1,312.5 118.1,313.0 119.1,313.6 120.1,315.5 121.1,316.4 122.1,317.3 123.1,319.6 124.1,319.4 125.1,317.0 126.1,312.9 127.1,309.5 128.1,307.4 129.1,304.8 130.1,301.7 131.1,299.3 132.1,298.9 133.1,297.8 134.1,295.3 135.1,294.0 136.1,292.8 137.1,292.7 138.1,293.4 139.1,297.7 140.1,298.6 141.1,297.1 142.1,295.8 143.1,297.1 144.1,297.6 145.1,298.9 146.1,301.6 147.1,302.8 148.1,304.8 149.1,307.2 150.1,307.9 151.1,308.4 152.1,309.7 153.1,312.5 154.1,315.5 155.1,317.0 156.1,317.0 157.1,317.5 158.1,315.6 159.1,313.2 160.1,313.3 161.1,314.5 162.1,316.3 163.1,319.1 164.1,321.6 165.1,323.6 166.1,323.3 167.1,322.8 168.1,321.3 169.1,317.3 170.1,313.8 171.1,313.8 172.1,313.3 173.1,314.0 174.1,317.7 175.1,320.8 176.1,321.5 177.1,322.4 178.1,323.7 179.1,325.8 180.1,328.0 181.1,327.1 182.1,325.0 183.1,321.9 184.1,319.3 185.1,317.0 186.1,319.2 187.1,323.1 188.1,325.8 189.1,327.4 190.1,327.8 191.1,326.2 192.1,325.6 193.1,325.2 194.1,326.2 195.1,327.3 196.1,327.8 197.1,327.2 198.1,326.8 199.1,327.5 200.1,328.0 201.1,328.7 202.1,329.7 203.1,330.7 204.1,332.8 205.1,335.4 206.1,334.4 207.1,332.7 208.1,332.5 209.1,333.0 210.1,333.4 211.1,335.1 212.1,336.3 213.1,336.5 214.1,336.2 215.1,336.3 216.1,334.4 217.1,333.3 218.1,332.5 219.1,331.7 220.1,330.3 221.1,331.5 222.1,333.5 223.1,335.0 224.1,335.2 225.1,336.0 226.1,335.4 227.1,333.4 228.1,331.2 229.1,330.3 230.1,330.0 231.1,330.0 232.1,329.9 233.1,329.5 234.1,331.1 235.1,332.3 236.1,333.4 237.1,335.1 238.1,336.1 239.1,334.9 240.1,333.8 241.1,333.6 242.1,334.7 243.1,335.8 244.1,336.7 245.1,337.5 246.1,335.8 247.1,333.9 248.1,333.3 249.1,334.7 250.1,335.9 251.1,336.0 252.1,336.1 253.1,336.9 254.1,337.1 255.1,337.9 256.1,338.9 257.1,337.7 258.1,336.8 259.1,336.9 260.1,337.1 261.1,337.1 262.1,337.5 263.1,337.2 264.1,338.6 265.1,341.0 266.1,341.7 267.1,341.0 268.1,340.6 269.1,341.1 270.1,341.9 271.1,342.5 272.1,341.7 273.1,340.7 274.1,340.0 275.1,339.4 276.1,339.3 277.1,339.8 278.1,340.0 279.1,341.2 280.1,342.4 281.1,342.3 282.1,343.0 283.1,344.4 284.1,343.1 285.1,341.3 286.1,339.8 287.1,339.8 288.1,339.1 289.1,335.3 290.1,333.0 291.1,333.4 292.1,338.8 293.1,343.5 294.1,344.6 295.1,343.8 296.1,341.9 297.1,340.8 298.1,341.4 299.1,342.2 300.1,342.8 301.1,343.7 302.1,344.4 303.1,343.3 304.1,342.2 305.1,341.7 306.1,341.6 307.1,341.3 308.1,342.5 309.1,343.2 310.1,343.6 311.1,344.4 312.1,344.8 313.1,344.3 314.1,342.7 315.1,340.9 316.1,339.8 317.1,339.4 318.1,339.7 319.1,340.7 320.1,342.1 321.1,342.6 322.1,343.0 323.1,343.6 324.1,343.5 325.1,344.1 326.1,344.3 327.1,342.7 328.1,342.7 329.1,343.6 330.1,345.1 331.1,344.0 332.1,343.3 333.1,342.6 334.1,343.3 335.1,343.5 336.1,344.2 337.1,345.5 338.1,345.6 339.1,344.1 340.1,343.5 341.1,344.6 342.1,346.2 343.1,347.6 344.1,348.0 345.1,348.3 346.1,347.5 347.1,345.5 348.1,344.9 349.1,346.9 350.1,349.0 351.1,348.8 352.1,348.8 353.1,347.7 354.1,346.0 355.1,345.1 356.1,345.2 357.1,344.2 358.1,343.4 359.1,343.2 360.1,342.2 361.1,343.5 362.1,345.3 363.1,346.8 364.1,348.3 365.1,350.0 366.1,348.3 367.1,345.5 368.1,343.5 369.1,342.9 370.1,342.0 371.1,341.9 372.1,342.2 373.1,343.5 374.1,345.1 375.1,346.7 376.1,346.9 377.1,346.5 378.1,346.0 379.1,344.7 380.1,343.1 381.1,344.3 382.1,346.9 383.1,348.5 384.1,348.8 385.1,350.1 386.1,349.4 387.1,347.1 388.1,346.7 389.1,348.7 390.1,350.3 391.1,349.6 392.1,349.4 393.1,348.3 394.1,347.2 395.1,346.6 396.1,346.2 397.1,345.3 398.1,345.0 399.1,347.0 400.1,348.0 401.1,347.8 402.1,347.7 403.1,347.3 404.1,346.5 405.1,345.3 406.1,345.1 407.1,344.6 408.1,344.3 409.1,345.3 410.1,347.2 411.1,346.1 412.1,343.1 413.1,341.6 414.1,343.1 415.1,343.6 416.1,344.4 417.1,345.8 418.1,346.5 419.1,344.4 420.1,342.0 421.1,343.1 422.1,346.5 423.1,348.8 424.1,349.4 425.1,350.8 426.1,349.1 427.1,343.4 428.1,338.9 429.1,340.2 430.1,341.9 431.1,342.7 432.1,342.3 433.1,341.4 434.1,341.3 435.1,341.6 436.1,341.1 437.1,340.5 438.1,340.2 439.1,342.4 440.1,343.0 441.1,341.2 442.1,338.0 443.1,335.1 444.1,334.4 445.1,334.0 446.1,334.8 447.1,336.8 448.1,338.0 449.1,337.4 450.1,336.8 451.1,337.5 452.1,339.6 453.1,341.5 454.1,341.3 455.1,340.5 456.1,339.0 457.1,335.0 458.1,331.4 459.1,331.4 460.1,332.8 461.1,336.0 462.1,340.7 463.1,344.3 464.1,344.9 465.1,345.1 466.1,344.6 467.1,343.1 468.1,342.1 469.1,338.8 470.1,335.0 471.1,331.6 472.1,328.6 473.1,325.1 474.1,322.9 475.1,321.5 476.1,318.7 477.1,315.9 478.1,315.7 479.1,317.4 480.1,320.1 481.1,324.2 482.1,327.8 483.1,331.0 484.1,334.4 485.1,338.4 486.1,339.2 487.1,337.9 488.1,335.4 489.1,335.6 490.1,337.6 491.1,339.5 492.1,339.2 493.1,338.5 494.1,337.4 495.1,338.9 496.1,340.3 497.1,340.9 498.1,338.2 499.1,335.5 500.1,335.5 501.1,337.8 502.1,340.2 503.1,341.2 504.1,341.5 505.1,342.1 506.1,340.7 507.1,338.2 508.1,337.4 509.1,339.8 510.1,340.9 511.1,344.4 512.1,348.0 513.1,345.3 514.1,342.5 515.1,339.4 516.1,338.3 517.1,339.4 518.1,340.5 519.1,341.5 520.1,342.9 521.1,344.2 522.1,345.4 523.1,343.4 524.1,342.1 525.1,341.3 526.1,340.1 527.1,339.5 528.1,339.9 529.1,340.8 530.1,342.5 531.1,341.1 532.1,338.8 533.1,337.3 534.1,338.7 535.1,340.3 536.1,341.8 537.1,342.5 538.1,343.5 539.1,343.4 540.1,342.9 541.1,342.1 542.1,341.4 543.1,340.2 544.1,339.2 545.1,339.7 546.1,341.1 547.1,342.4 548.1,343.6 549.1,344.1 550.1,343.8 551.1,341.9 552.1,340.4 553.1,340.1 554.1,341.7 555.1,342.6 556.1,341.3 557.1,340.1 558.1,339.5 559.1,338.1 560.1,336.7 561.1,335.8 562.1,335.8 563.1,336.1 564.1,335.8 565.1,334.3 566.1,333.8 567.1,332.5 568.1,331.5 569.1,330.8 570.1,329.2 571.1,326.6 572.1,324.5 573.1,323.2 574.1,323.9 575.1,325.7 576.1,328.0 577.1,329.8 578.1,331.2 579.1,332.7 580.1,333.4 581.1,334.2 582.1,335.0 583.1,336.2 584.1,337.2 585.1,337.5 586.1,337.4 587.1,338.6 588.1,339.5 589.1,340.1 590.1,338.2 591.1,336.0 592.1,335.1 593.1,335.4 594.1,334.3 595.1,333.7 596.1,334.7 597.1,335.0 598.1,335.3 599.1,336.2 600.1,337.8 601.1,339.8 602.1,341.2 602.9,341.6" fill="none" stroke="#14AFEA" stroke-width="1.6" stroke-linejoin="round" stroke-linecap="round"/>
<polyline points="20.0,329.4 21.0,330.3 22.0,330.2 23.0,328.9 24.0,327.7 25.0,327.3 26.0,326.1 27.0,322.4 28.0,316.7 29.0,309.1 30.0,299.7 31.0,290.9 32.0,284.8 33.0,281.1 34.0,281.1 35.0,282.0 36.0,277.7 37.0,273.2 38.0,268.2 39.0,261.0 40.0,254.4 41.0,249.2 42.0,245.0 43.0,242.4 44.0,241.9 45.0,245.2 46.0,250.6 47.0,258.6 48.0,265.9 49.0,270.8 50.0,272.1 51.0,271.9 52.0,272.6 53.0,276.4 54.0,281.8 55.0,287.9 56.0,295.9 57.0,304.2 58.0,310.6 59.0,317.5 60.0,322.2 61.0,323.3 62.0,323.4 63.0,324.2 64.0,326.5 65.0,327.8 66.0,330.3 67.0,331.9 68.0,333.6 69.0,333.7 70.0,333.8 71.0,333.0 72.0,333.4 73.0,333.7 74.0,334.1 75.0,334.7 76.0,335.6 77.0,336.8 78.0,338.6 79.0,338.5 80.0,338.4 81.0,339.9 82.0,341.1 83.0,342.5 84.0,342.3 85.0,342.2 86.0,341.5 87.0,340.4 88.0,340.2 89.0,341.4 90.0,341.1 91.0,341.3 92.0,340.6 93.0,339.4 94.0,341.4 95.0,344.1 96.0,342.8 97.0,339.6 98.0,337.3 99.0,338.7 100.0,340.8 101.0,347.9 102.0,352.7 103.0,353.4 104.0,354.1 105.0,353.5 106.0,352.6 107.0,351.9 108.0,352.7 109.0,354.3 110.0,354.4 111.0,353.3 112.0,352.3 113.0,351.4 114.0,351.0 115.0,353.1 116.0,355.8 117.0,354.1 118.0,352.7 119.0,351.2 120.0,350.6 121.0,349.9 122.0,350.6 123.0,351.0 124.0,348.7 125.0,347.8 126.0,346.6 127.0,344.6 128.0,341.8 129.0,340.1 130.0,337.5 131.0,335.6 132.0,334.1 133.0,333.9 134.0,332.6 135.0,331.0 136.0,329.5 137.0,329.0 138.0,329.3 139.0,329.0 140.0,328.5 141.0,328.0 142.0,327.1 143.0,325.5 144.0,325.2 145.0,325.8 146.0,329.6 147.0,333.0 148.0,336.0 149.0,339.2 150.0,342.2 151.0,344.7 152.0,347.2 153.0,349.4 154.0,352.4 155.0,353.8 156.0,354.8 157.0,353.9 158.0,353.0 159.0,352.7 160.0,351.8 161.0,351.1 162.0,352.2 163.0,353.0 164.0,353.9 165.0,355.5 166.0,357.7 167.0,360.0 168.0,360.4 169.0,360.9 170.0,362.0 171.0,359.4 172.0,356.5 173.0,355.2 174.0,355.1 175.0,354.6 176.0,357.0 177.0,360.0 178.0,360.2 179.0,356.7 180.0,353.2 181.0,353.6 182.0,354.6 183.0,356.0 184.0,358.1 185.0,360.1 186.0,358.9 187.0,357.2 188.0,357.2 189.0,359.3 190.0,361.0 191.0,361.8 192.0,361.9 193.0,362.6 194.0,363.4 195.0,363.7 196.0,363.0 197.0,362.7 198.0,362.8 199.0,363.2 200.0,364.3 201.0,365.1 202.0,365.4 203.0,366.4 204.0,366.5 205.0,366.8 206.0,366.6 207.0,366.4 208.0,366.7 209.0,367.7 210.0,368.9 211.0,369.5 212.0,370.1 213.0,369.8 214.0,367.4 215.0,365.7 216.0,363.8 217.0,362.4 218.0,361.3 219.0,363.1 220.0,364.3 221.0,363.0 222.0,360.7 223.0,359.0 224.0,358.9 225.0,358.6 226.0,357.3 227.0,356.6 228.0,355.9 229.0,353.2 230.0,351.7 231.0,353.3 232.0,355.4 233.0,358.3 234.0,360.4 235.0,359.6 236.0,359.1 237.0,358.9 238.0,359.2 239.0,360.7 240.0,362.1 241.0,363.3 242.0,363.5 243.0,362.3 244.0,361.5 245.0,363.7 246.0,366.7 247.0,368.5 248.0,367.5 249.0,366.5 250.0,365.0 251.0,363.7 252.0,362.8 253.0,363.8 254.0,365.1 255.0,366.0 256.0,366.7 257.0,367.1 258.0,365.2 259.0,362.9 260.0,363.8 261.0,365.1 262.0,365.5 263.0,365.9 264.0,367.0 265.0,367.1 266.0,367.3 267.0,367.7 268.0,367.2 269.0,366.8 270.0,367.8 271.0,368.9 272.0,369.2 273.0,368.2 274.0,367.3 275.0,367.7 276.0,368.3 277.0,369.4 278.0,368.9 279.0,367.8 280.0,367.9 281.0,368.1 282.0,368.4 283.0,369.5 284.0,370.9 285.0,371.5 286.0,371.8 287.0,372.6 288.0,372.4 289.0,372.8 290.0,371.9 291.0,370.7 292.0,370.3 293.0,370.7 294.0,371.2 295.0,371.0 296.0,370.7 297.0,370.2 298.0,371.0 299.0,372.0 300.0,372.2 301.0,370.8 302.0,370.0 303.0,371.7 304.0,372.8 305.0,372.1 306.0,370.5 307.0,370.3 308.0,370.3 309.0,369.9 310.0,368.9 311.0,366.6 312.0,365.6 313.0,367.8 314.0,370.6 315.0,371.8 316.0,372.4 317.0,372.4 318.0,370.4 319.0,369.0 320.0,368.2 321.0,367.8 322.0,368.1 323.0,368.4 324.0,367.9 325.0,367.3 326.0,367.3 327.0,368.8 328.0,370.0 329.0,369.7 330.0,369.2 331.0,369.3 332.0,369.4 333.0,369.9 334.0,370.0 335.0,370.3 336.0,370.9 337.0,371.3 338.0,371.9 339.0,372.3 340.0,371.4 341.0,371.9 342.0,373.1 343.0,373.0 344.0,371.6 345.0,370.6 346.0,370.0 347.0,368.2 348.0,368.7 349.0,371.3 350.0,373.6 351.0,373.0 352.0,372.0 353.0,371.8 354.0,372.2 355.0,372.8 356.0,373.7 357.0,374.5 358.0,374.8 359.0,374.3 360.0,373.3 361.0,372.5 362.0,371.5 363.0,370.8 364.0,371.6 365.0,372.6 366.0,373.1 367.0,372.9 368.0,372.6 369.0,372.3 370.0,371.4 371.0,371.5 372.0,373.3 373.0,373.5 374.0,372.5 375.0,371.9 376.0,372.1 377.0,372.9 378.0,374.0 379.0,372.3 380.0,371.5 381.0,372.1 382.0,372.5 383.0,373.2 384.0,372.9 385.0,372.5 386.0,371.9 387.0,372.8 388.0,373.6 389.0,372.3 390.0,371.0 391.0,371.6 392.0,372.4 393.0,373.4 394.0,375.2 395.0,376.7 396.0,376.3 397.0,375.1 398.0,373.9 399.0,373.5 400.0,373.0 401.0,372.7 402.0,372.9 403.0,373.0 404.0,373.2 405.0,372.6 406.0,372.0 407.0,372.8 408.0,373.6 409.0,373.2 410.0,372.3 411.0,371.7 412.0,371.8 413.0,371.8 414.0,370.8 415.0,370.3 416.0,370.4 417.0,371.6 418.0,372.6 419.0,372.0 420.0,371.0 421.0,370.8 422.0,370.6 423.0,371.0 424.0,369.4 425.0,367.9 426.0,367.8 427.0,368.6 428.0,368.7 429.0,368.9 430.0,368.7 431.0,369.5 432.0,369.5 433.0,370.3 434.0,369.9 435.0,370.1 436.0,369.1 437.0,368.7 438.0,368.0 439.0,363.7 440.0,361.6 441.0,364.8 442.0,368.9 443.0,372.1 444.0,372.5 445.0,370.3 446.0,369.0 447.0,369.4 448.0,370.0 449.0,369.5 450.0,369.0 451.0,368.9 452.0,369.8 453.0,371.1 454.0,370.4 455.0,370.1 456.0,370.5 457.0,370.8 458.0,371.3 459.0,369.7 460.0,369.6 461.0,369.4 462.0,368.3 463.0,368.1 464.0,368.5 465.0,368.8 466.0,366.8 467.0,363.9 468.0,362.5 469.0,358.6 470.0,353.2 471.0,348.1 472.0,344.5 473.0,340.1 474.0,338.0 475.0,335.9 476.0,334.8 477.0,336.0 478.0,338.6 479.0,342.5 480.0,347.2 481.0,354.9 482.0,360.2 483.0,363.2 484.0,363.6 485.0,363.1 486.0,362.7 487.0,363.0 488.0,363.2 489.0,364.3 490.0,365.7 491.0,367.3 492.0,366.4 493.0,365.4 494.0,364.8 495.0,366.9 496.0,368.4 497.0,369.0 498.0,367.7 499.0,366.3 500.0,365.4 501.0,364.8 502.0,364.4 503.0,364.5 504.0,364.6 505.0,365.2 506.0,366.3 507.0,366.9 508.0,367.0 509.0,365.3 510.0,364.3 511.0,364.9 512.0,367.0 513.0,368.5 514.0,368.3 515.0,367.9 516.0,366.9 517.0,366.3 518.0,365.4 519.0,364.0 520.0,365.0 521.0,366.0 522.0,367.3 523.0,367.9 524.0,369.0 525.0,370.3 526.0,372.4 527.0,373.6 528.0,371.2 529.0,369.3 530.0,368.7 531.0,368.5 532.0,367.7 533.0,366.6 534.0,366.0 535.0,366.6 536.0,368.4 537.0,370.6 538.0,370.6 539.0,369.2 540.0,368.0 541.0,366.1 542.0,365.1 543.0,363.9 544.0,364.5 545.0,366.1 546.0,367.2 547.0,367.6 548.0,368.4 549.0,368.0 550.0,366.9 551.0,365.0 552.0,364.1 553.0,363.5 554.0,361.7 555.0,363.1 556.0,364.4 557.0,365.4 558.0,365.7 559.0,365.9 560.0,365.4 561.0,365.4 562.0,365.5 563.0,364.0 564.0,361.2 565.0,359.3 566.0,357.9 567.0,357.3 568.0,355.9 569.0,353.9 570.0,351.4 571.0,349.6 572.0,349.1 573.0,348.9 574.0,350.2 575.0,352.0 576.0,354.8 577.0,356.9 578.0,358.4 579.0,359.5 580.0,361.8 581.0,363.6 582.0,364.7 583.0,365.8 584.0,365.2 585.0,363.9 586.0,362.2 587.0,362.7 588.0,363.4 589.0,364.1 590.0,361.0 591.0,360.2 592.0,361.0 593.0,362.6 594.0,363.0 595.0,362.6 596.0,362.5 597.0,362.0 598.0,361.6 598.7,362.0" fill="none" stroke="#8B4A1A" stroke-width="1.6" stroke-linejoin="round" stroke-linecap="round"/>
<polyline points="22.6,343.0 23.6,344.8 24.6,345.7 25.6,345.3 26.6,343.0 27.6,337.7 28.6,334.0 29.6,333.0 30.6,332.2 31.6,328.1 32.6,322.3 33.6,314.3 34.6,304.8 35.6,297.1 36.6,291.1 37.6,286.8 38.6,282.6 39.6,280.4 40.6,278.2 41.6,275.1 42.6,272.8 43.6,272.5 44.6,273.9 45.6,276.0 46.6,279.5 47.6,283.1 48.6,286.3 49.6,293.3 50.6,298.8 51.6,305.9 52.6,314.8 53.6,320.0 54.6,323.5 55.6,326.5 56.6,330.4 57.6,338.1 58.6,347.9 59.6,353.1 60.6,356.2 61.6,357.9 62.6,357.4 63.6,357.7 64.6,358.6 65.6,359.4 66.6,361.5 67.6,363.0 68.6,363.0 69.6,363.3 70.6,363.0 71.6,362.2 72.6,361.7 73.6,366.1 74.6,368.1 75.6,368.8 76.6,369.4 77.6,370.3 78.6,371.5 79.6,373.3 80.6,376.1 81.6,373.1 82.6,367.9 83.6,367.9 84.6,371.3 85.6,374.4 86.6,375.9 87.6,376.8 88.6,377.9 89.6,378.5 90.6,379.4 91.6,380.1 92.6,379.0 93.6,377.6 94.6,377.8 95.6,379.1 96.6,380.9 97.6,381.6 98.6,381.7 99.6,382.5 100.6,383.9 101.6,385.0 102.6,386.2 103.6,386.4 104.6,386.9 105.6,387.7 106.6,388.4 107.6,390.6 108.6,393.3 109.6,394.4 110.6,392.5 111.6,391.2 112.6,392.9 113.6,394.4 114.6,395.7 115.6,394.4 116.6,393.4 117.6,393.5 118.6,393.2 119.6,391.8 120.6,391.2 121.6,390.1 122.6,389.4 123.6,388.0 124.6,386.4 125.6,384.9 126.6,383.4 127.6,381.2 128.6,378.1 129.6,375.0 130.6,373.0 131.6,371.3 132.6,370.3 133.6,369.4 134.6,368.2 135.6,366.7 136.6,366.2 137.6,366.2 138.6,366.4 139.6,365.4 140.6,365.4 141.6,365.8 142.6,366.1 143.6,366.7 144.6,368.0 145.6,372.3 146.6,375.6 147.6,378.6 148.6,382.1 149.6,385.2 150.6,387.9 151.6,389.1 152.6,390.1 153.6,391.2 154.6,391.8 155.6,392.3 156.6,392.1 157.6,392.5 158.6,393.7 159.6,394.1 160.6,395.2 161.6,394.8 162.6,394.6 163.6,394.3 164.6,393.4 165.6,393.3 166.6,393.3 167.6,394.1 168.6,395.4 169.6,396.6 170.6,396.9 171.6,396.7 172.6,395.7 173.6,396.0 174.6,396.6 175.6,397.6 176.6,399.6 177.6,401.5 178.6,400.9 179.6,399.7 180.6,398.8 181.6,397.7 182.6,397.2 183.6,399.4 184.6,401.9 185.6,401.7 186.6,400.3 187.6,398.9 188.6,399.1 189.6,399.7 190.6,400.2 191.6,401.1 192.6,403.2 193.6,403.9 194.6,403.9 195.6,404.6 196.6,404.8 197.6,405.1 198.6,405.9 199.6,406.7 200.6,407.9 201.6,407.6 202.6,408.7 203.6,408.5 204.6,407.2 205.6,407.4 206.6,409.0 207.6,410.0 208.6,409.7 209.6,409.2 210.6,408.0 211.6,406.7 212.6,405.8 213.6,406.0 214.6,405.7 215.6,405.5 216.6,404.9 217.6,404.2 218.6,404.7 219.6,404.3 220.6,403.3 221.6,402.0 222.6,401.4 223.6,400.9 224.6,400.1 225.6,399.7 226.6,401.0 227.6,401.9 228.6,402.6 229.6,403.3 230.6,404.0 231.6,402.4 232.6,400.3 233.6,401.2 234.6,402.6 235.6,403.5 236.6,403.7 237.6,404.0 238.6,404.5 239.6,405.2 240.6,405.5 241.6,406.5 242.6,407.8 243.6,408.8 244.6,408.8 245.6,408.9 246.6,410.0 247.6,410.4 248.6,411.2 249.6,411.9 250.6,412.8 251.6,413.1 252.6,413.1 253.6,413.5 254.6,414.3 255.6,415.7 256.6,415.0 257.6,414.3 258.6,412.2 259.6,410.2 260.6,410.1 261.6,411.5 262.6,412.9 263.6,413.8 264.6,414.6 265.6,414.9 266.6,415.2 267.6,416.5 268.6,415.7 269.6,414.3 270.6,413.8 271.6,413.0 272.6,411.6 273.6,410.4 274.6,410.2 275.6,409.9 276.6,411.7 277.6,413.5 278.6,414.6 279.6,415.3 280.6,416.4 281.6,415.9 282.6,414.8 283.6,414.2 284.6,415.0 285.6,415.8 286.6,416.0 287.6,416.9 288.6,418.1 289.6,418.3 290.6,418.6 291.6,418.7 292.6,419.0 293.6,419.2 294.6,420.5 295.6,422.1 296.6,421.6 297.6,420.4 298.6,419.9 299.6,420.3 300.6,420.9 301.6,420.3 302.6,419.6 303.6,419.4 304.6,420.6 305.6,421.0 306.6,419.3 307.6,417.9 308.6,416.9 309.6,416.9 310.6,417.3 311.6,415.9 312.6,414.6 313.6,414.5 314.6,415.3 315.6,415.6 316.6,416.6 317.6,417.0 318.6,417.3 319.6,417.7 320.6,417.7 321.6,418.4 322.6,419.6 323.6,420.1 324.6,419.0 325.6,418.4 326.6,418.8 327.6,419.1 328.6,418.1 329.6,417.0 330.6,416.8 331.6,418.2 332.6,419.7 333.6,420.0 334.6,420.7 335.6,421.8 336.6,422.0 337.6,422.4 338.6,422.2 339.6,422.0 340.6,420.9 341.6,420.1 342.6,418.8 343.6,419.5 344.6,420.5 345.6,421.1 346.6,420.8 347.6,419.5 348.6,419.1 349.6,417.7 350.6,417.7 351.6,418.9 352.6,419.5 353.6,420.4 354.6,421.3 355.6,422.2 356.6,422.1 357.6,422.7 358.6,422.8 359.6,423.0 360.6,422.9 361.6,422.7 362.6,422.6 363.6,424.0 364.6,424.7 365.6,424.8 366.6,423.4 367.6,422.6 368.6,423.5 369.6,423.3 370.6,423.7 371.6,425.6 372.6,426.7 373.6,427.6 374.6,428.5 375.6,428.5 376.6,428.4 377.6,428.1 378.6,429.2 379.6,429.9 380.6,429.8 381.6,430.3 382.6,431.0 383.6,430.9 384.6,430.2 385.6,429.1 386.6,429.6 387.6,429.3 388.6,428.6 389.6,428.2 390.6,428.8 391.6,427.9 392.6,426.9 393.6,426.1 394.6,425.4 395.6,424.6 396.6,427.9 397.6,431.2 398.6,430.1 399.6,428.6 400.6,427.3 401.6,424.9 402.6,423.2 403.6,422.9 404.6,422.5 405.6,421.9 406.6,420.3 407.6,419.0 408.6,419.4 409.6,420.7 410.6,421.3 411.6,421.2 412.6,421.4 413.6,422.0 414.6,421.2 415.6,419.7 416.6,419.9 417.6,421.1 418.6,422.5 419.6,422.8 420.6,423.4 421.6,423.0 422.6,422.4 423.6,422.2 424.6,422.9 425.6,423.6 426.6,423.4 427.6,422.4 428.6,421.8 429.6,421.9 430.6,422.9 431.6,424.1 432.6,424.8 433.6,425.1 434.6,424.3 435.6,423.5 436.6,422.9 437.6,421.9 438.6,421.7 439.6,423.1 440.6,424.6 441.6,422.1 442.6,420.4 443.6,420.7 444.6,421.2 445.6,421.5 446.6,421.4 447.6,422.0 448.6,422.8 449.6,423.5 450.6,423.9 451.6,423.6 452.6,422.8 453.6,423.1 454.6,423.6 455.6,424.5 456.6,425.5 457.6,426.0 458.6,426.2 459.6,427.3 460.6,427.7 461.6,426.8 462.6,426.5 463.6,425.5 464.6,424.5 465.6,423.5 466.6,419.8 467.6,416.0 468.6,411.7 469.6,406.9 470.6,401.9 471.6,398.9 472.6,395.6 473.6,393.8 474.6,393.7 475.6,395.5 476.6,397.9 477.6,403.5 478.6,410.1 479.6,415.6 480.6,419.5 481.6,421.7 482.6,423.3 483.6,424.0 484.6,424.9 485.6,425.9 486.6,424.7 487.6,423.8 488.6,423.6 489.6,425.3 490.6,426.8 491.6,427.4 492.6,426.8 493.6,426.0 494.6,425.3 495.6,424.6 496.6,423.6 497.6,422.8 498.6,422.6 499.6,422.1 500.6,423.7 501.6,425.8 502.6,426.9 503.6,423.4 504.6,420.2 505.6,418.5 506.6,417.6 507.6,417.5 508.6,419.4 509.6,421.4 510.6,423.3 511.6,423.7 512.6,424.1 513.6,424.6 514.6,424.8 515.6,425.3 516.6,425.8 517.6,425.2 518.6,424.2 519.6,423.7 520.6,423.9 521.6,425.6 522.6,426.9 523.6,427.0 524.6,426.6 525.6,426.7 526.6,427.2 527.6,427.7 528.6,430.3 529.6,432.4 530.6,433.8 531.6,432.3 532.6,430.0 533.6,428.5 534.6,426.1 535.6,423.8 536.6,424.7 537.6,427.0 538.6,429.1 539.6,428.0 540.6,428.1 541.6,427.8 542.6,425.8 543.6,423.9 544.6,423.2 545.6,425.1 546.6,427.8 547.6,429.2 548.6,430.0 549.6,431.0 550.6,431.1 551.6,431.6 552.6,432.5 553.6,430.1 554.6,428.6 555.6,427.7 556.6,426.8 557.6,426.2 558.6,425.3 559.6,425.0 560.6,424.3 561.6,422.4 562.6,420.3 563.6,418.9 564.6,417.2 565.6,414.9 566.6,413.4 567.6,413.3 568.6,412.7 569.6,412.9 570.6,414.0 571.6,414.5 572.6,415.6 573.6,416.6 574.6,417.7 575.6,419.0 576.6,421.3 577.6,423.2 578.6,424.4 579.6,425.1 580.6,426.1 581.6,426.1 582.6,425.2 583.6,424.5 584.6,422.8 585.6,421.4 586.6,421.6 587.6,422.8 588.6,424.2 589.6,424.5 590.6,425.6 591.6,426.3 592.6,425.1 593.6,423.8 594.6,422.8 595.6,421.4 596.6,419.0 597.6,418.7 598.6,420.4 599.6,422.4 600.6,423.2 601.6,423.9 602.6,424.5 603.6,424.5 604.6,423.7 605.6,422.5 606.6,421.9 607.6,421.3 607.9,422.0" fill="none" stroke="#BE1E2A" stroke-width="1.6" stroke-linejoin="round" stroke-linecap="round"/>
<polyline points="15.8,426.1 16.8,427.6 17.8,429.6 18.8,429.7 19.8,429.5 20.8,429.7 21.8,429.9 22.8,429.9 23.8,428.7 24.8,426.8 25.8,423.9 26.8,419.1 27.8,411.2 28.8,404.0 29.8,396.5 30.8,385.2 31.8,377.2 32.8,371.6 33.8,365.6 34.8,359.7 35.8,357.6 36.8,351.2 37.8,343.6 38.8,335.8 39.8,329.9 40.8,320.2 41.8,315.9 42.8,312.9 43.8,312.4 44.8,315.6 45.8,321.1 46.8,326.7 47.8,330.2 48.8,338.3 49.8,345.4 50.8,351.0 51.8,359.4 52.8,367.2 53.8,374.7 54.8,385.0 55.8,398.2 56.8,404.9 57.8,411.8 58.8,416.8 59.8,422.2 60.8,425.1 61.8,427.3 62.8,427.7 63.8,430.0 64.8,433.6 65.8,435.0 66.8,435.8 67.8,435.4 68.8,433.7 69.8,431.8 70.8,430.9 71.8,430.3 72.8,431.4 73.8,431.7 74.8,433.2 75.8,435.3 76.8,437.3 77.8,436.8 78.8,435.5 79.8,436.4 80.8,438.6 81.8,440.4 82.8,440.5 83.8,441.0 84.8,441.1 85.8,440.8 86.8,441.9 87.8,443.1 88.8,443.2 89.8,443.5 90.8,443.8 91.8,444.4 92.8,445.3 93.8,445.2 94.8,446.0 95.8,447.7 96.8,449.7 97.8,448.0 98.8,446.5 99.8,446.5 100.8,445.7 101.8,444.4 102.8,446.5 103.8,447.9 104.8,448.7 105.8,449.9 106.8,450.3 107.8,451.2 108.8,452.4 109.8,453.4 110.8,454.4 111.8,454.3 112.8,454.6 113.8,455.5 114.8,456.2 115.8,456.2 116.8,456.6 117.8,456.4 118.8,456.5 119.8,455.7 120.8,453.5 121.8,450.0 122.8,447.4 123.8,444.2 124.8,439.7 125.8,436.1 126.8,432.7 127.8,428.2 128.8,425.2 129.8,423.0 130.8,421.1 131.8,418.6 132.8,415.7 133.8,414.2 134.8,413.2 135.8,411.4 136.8,409.2 137.8,408.2 138.8,408.0 139.8,408.3 140.8,408.8 141.8,409.2 142.8,411.1 143.8,412.9 144.8,415.9 145.8,419.4 146.8,422.8 147.8,425.5 148.8,428.5 149.8,431.3 150.8,434.5 151.8,438.1 152.8,442.0 153.8,446.1 154.8,448.4 155.8,449.1 156.8,449.7 157.8,450.3 158.8,451.2 159.8,451.4 160.8,449.6 161.8,447.8 162.8,448.3 163.8,448.7 164.8,449.1 165.8,450.8 166.8,452.4 167.8,453.9 168.8,455.1 169.8,456.2 170.8,457.1 171.8,458.0 172.8,457.9 173.8,456.2 174.8,454.8 175.8,456.3 176.8,458.4 177.8,459.5 178.8,457.5 179.8,455.9 180.8,455.2 181.8,454.2 182.8,454.2 183.8,456.6 184.8,458.3 185.8,457.5 186.8,455.9 187.8,454.9 188.8,456.5 189.8,457.7 190.8,459.2 191.8,460.9 192.8,462.6 193.8,463.7 194.8,465.2 195.8,466.2 196.8,466.2 197.8,465.7 198.8,464.5 199.8,463.5 200.8,464.2 201.8,465.6 202.8,466.3 203.8,465.9 204.8,465.9 205.8,465.4 206.8,465.0 207.8,465.2 208.8,466.9 209.8,468.5 210.8,466.6 211.8,463.8 212.8,460.8 213.8,459.5 214.8,458.4 215.8,457.4 216.8,456.7 217.8,456.0 218.8,455.0 219.8,454.4 220.8,453.5 221.8,452.1 222.8,450.9 223.8,449.6 224.8,448.3 225.8,447.2 226.8,447.0 227.8,446.3 228.8,447.1 229.8,448.4 230.8,448.2 231.8,448.4 232.8,448.9 233.8,449.5 234.8,450.7 235.8,451.8 236.8,453.1 237.8,454.8 238.8,455.5 239.8,456.1 240.8,456.9 241.8,458.1 242.8,459.0 243.8,459.1 244.8,459.8 245.8,459.8 246.8,460.4 247.8,461.7 248.8,462.2 249.8,462.7 250.8,462.8 251.8,461.6 252.8,459.9 253.8,460.6 254.8,461.2 255.8,462.1 256.8,462.9 257.8,464.2 258.8,463.8 259.8,463.1 260.8,463.2 261.8,463.8 262.8,465.0 263.8,464.6 264.8,463.3 265.8,462.3 266.8,463.4 267.8,464.6 268.8,465.4 269.8,465.9 270.8,465.9 271.8,466.7 272.8,467.2 273.8,467.3 274.8,467.3 275.8,467.3 276.8,467.6 277.8,468.1 278.8,468.3 279.8,469.0 280.8,470.1 281.8,469.8 282.8,469.2 283.8,468.8 284.8,468.6 285.8,468.9 286.8,469.8 287.8,470.2 288.8,468.9 289.8,468.4 290.8,468.4 291.8,469.3 292.8,470.1 293.8,469.7 294.8,469.5 295.8,468.9 296.8,469.0 297.8,469.7 298.8,470.6 299.8,470.3 300.8,470.7 301.8,470.1 302.8,468.6 303.8,468.1 304.8,467.6 305.8,467.3 306.8,467.1 307.8,467.1 308.8,466.2 309.8,465.5 310.8,465.1 311.8,463.3 312.8,462.0 313.8,462.3 314.8,461.5 315.8,461.4 316.8,462.3 317.8,462.5 318.8,463.0 319.8,464.6 320.8,465.0 321.8,464.0 322.8,463.1 323.8,462.7 324.8,462.9 325.8,463.8 326.8,463.5 327.8,462.4 328.8,462.6 329.8,462.6 330.8,463.3 331.8,463.9 332.8,465.0 333.8,465.5 334.8,466.1 335.8,466.0 336.8,465.5 337.8,465.2 338.8,465.5 339.8,464.9 340.8,465.3 341.8,466.2 342.8,466.9 343.8,468.0 344.8,468.9 345.8,469.3 346.8,469.9 347.8,470.2 348.8,469.2 349.8,467.6 350.8,468.3 351.8,469.0 352.8,469.5 353.8,469.2 354.8,468.7 355.8,468.4 356.8,467.7 357.8,466.0 358.8,466.0 359.8,466.1 360.8,466.8 361.8,468.2 362.8,468.8 363.8,468.6 364.8,469.4 365.8,470.3 366.8,470.4 367.8,469.7 368.8,468.8 369.8,467.9 370.8,467.6 371.8,469.0 372.8,470.8 373.8,470.8 374.8,470.1 375.8,470.6 376.8,470.7 377.8,470.7 378.8,469.6 379.8,469.5 380.8,469.9 381.8,471.3 382.8,471.6 383.8,470.8 384.8,470.3 385.8,471.5 386.8,472.0 387.8,472.3 388.8,471.1 389.8,471.3 390.8,471.2 391.8,470.8 392.8,471.1 393.8,471.1 394.8,471.1 395.8,470.8 396.8,470.8 397.8,469.9 398.8,468.9 399.8,468.1 400.8,467.0 401.8,467.1 402.8,467.4 403.8,466.7 404.8,465.7 405.8,465.3 406.8,464.5 407.8,464.8 408.8,465.7 409.8,466.1 410.8,465.9 411.8,466.5 412.8,466.7 413.8,466.0 414.8,465.7 415.8,465.1 416.8,465.7 417.8,467.3 418.8,467.4 419.8,467.1 420.8,467.0 421.8,468.0 422.8,469.4 423.8,468.9 424.8,467.2 425.8,466.5 426.8,468.3 427.8,469.3 428.8,468.6 429.8,467.8 430.8,468.0 431.8,468.4 432.8,468.8 433.8,467.6 434.8,467.0 435.8,466.5 436.8,466.0 437.8,465.2 438.8,466.4 439.8,468.5 440.8,468.7 441.8,467.6 442.8,466.8 443.8,467.0 444.8,468.4 445.8,469.0 446.8,468.0 447.8,467.5 448.8,467.5 449.8,467.9 450.8,468.0 451.8,468.5 452.8,469.7 453.8,469.7 454.8,469.3 455.8,468.4 456.8,465.3 457.8,463.1 458.8,463.6 459.8,465.7 460.8,466.2 461.8,465.4 462.8,465.1 463.8,465.6 464.8,465.2 465.8,463.3 466.8,458.2 467.8,453.8 468.8,447.6 469.8,440.5 470.8,434.4 471.8,429.8 472.8,426.0 473.8,424.2 474.8,423.1 475.8,424.6 476.8,427.2 477.8,433.1 478.8,442.0 479.8,449.5 480.8,455.6 481.8,459.4 482.8,461.9 483.8,463.0 484.8,464.2 485.8,463.8 486.8,462.5 487.8,462.5 488.8,461.6 489.8,460.3 490.8,459.8 491.8,459.7 492.8,460.5 493.8,461.8 494.8,461.2 495.8,460.3 496.8,459.8 497.8,459.3 498.8,459.1 499.8,458.8 500.8,458.4 501.8,457.3 502.8,456.1 503.8,455.4 504.8,455.2 505.8,456.7 506.8,457.9 507.8,458.7 508.8,460.2 509.8,461.2 510.8,462.7 511.8,461.5 512.8,460.8 513.8,460.4 514.8,461.0 515.8,461.8 516.8,461.5 517.8,461.1 518.8,461.4 519.8,461.6 520.8,459.7 521.8,457.9 522.8,459.0 523.8,460.7 524.8,461.3 525.8,461.8 526.8,462.6 527.8,463.1 528.8,464.4 529.8,464.9 530.8,464.8 531.8,465.2 532.8,465.7 533.8,464.8 534.8,463.9 535.8,462.6 536.8,463.5 537.8,464.3 538.8,464.7 539.8,464.0 540.8,462.9 541.8,462.7 542.8,462.8 543.8,461.9 544.8,461.4 545.8,462.2 546.8,463.7 547.8,464.3 548.8,463.9 549.8,464.8 550.8,464.4 551.8,463.9 552.8,463.0 553.8,463.5 554.8,464.1 555.8,464.3 556.8,462.1 557.8,460.0 558.8,458.1 559.8,456.6 560.8,454.6 561.8,450.9 562.8,447.6 563.8,443.9 564.8,440.3 565.8,436.6 566.8,433.9 567.8,433.0 568.8,432.7 569.8,436.2 570.8,440.3 571.8,446.5 572.8,451.7 573.8,453.7 574.8,454.7 575.8,454.9 576.8,456.0 577.8,456.6 578.8,457.7 579.8,458.3 580.8,458.9 581.8,459.8 582.8,460.9 583.8,460.2 584.8,458.5 585.8,456.8 586.8,456.4 587.8,456.8 588.8,456.3 589.8,454.2 590.8,452.6 591.8,451.9 592.8,453.6 593.8,454.7 594.8,456.0 595.8,456.9 596.8,458.7 597.8,459.5 598.8,458.4 599.8,456.6 600.8,454.4 601.8,452.2 602.8,449.3 603.8,449.5 604.8,450.2 605.8,450.6 606.8,451.0 607.8,450.8 607.9,450.5" fill="none" stroke="#EE1C24" stroke-width="1.6" stroke-linejoin="round" stroke-linecap="round"/>
<polyline points="15.1,459.7 16.1,459.8 17.1,459.9 18.1,461.3 19.1,462.9 20.1,461.4 21.1,461.0 22.1,459.1 23.1,457.2 24.1,454.9 25.1,452.9 26.1,450.7 27.1,448.0 28.1,445.7 29.1,442.2 30.1,438.7 31.1,430.8 32.1,420.2 33.1,410.6 34.1,403.4 35.1,397.8 36.1,393.1 37.1,388.4 38.1,382.4 39.1,378.9 40.1,375.2 41.1,372.3 42.1,371.2 43.1,370.9 44.1,371.1 45.1,371.9 46.1,372.7 47.1,375.9 48.1,379.9 49.1,385.2 50.1,390.4 51.1,395.7 52.1,402.0 53.1,408.2 54.1,413.8 55.1,419.7 56.1,426.3 57.1,433.0 58.1,439.4 59.1,444.7 60.1,450.7 61.1,453.9 62.1,455.2 63.1,454.6 64.1,453.2 65.1,454.3 66.1,456.0 67.1,463.2 68.1,467.3 69.1,470.2 70.1,471.0 71.1,471.9 72.1,472.5 73.1,473.8 74.1,475.1 75.1,476.2 76.1,477.4 77.1,477.5 78.1,477.6 79.1,479.3 80.1,480.8 81.1,481.9 82.1,482.7 83.1,483.6 84.1,485.1 85.1,485.7 86.1,486.7 87.1,487.4 88.1,488.5 89.1,491.5 90.1,492.6 91.1,492.8 92.1,492.6 93.1,490.3 94.1,487.2 95.1,485.3 96.1,488.2 97.1,492.7 98.1,496.2 99.1,497.3 100.1,497.4 101.1,497.5 102.1,497.7 103.1,497.6 104.1,497.9 105.1,498.5 106.1,498.6 107.1,497.5 108.1,497.3 109.1,498.0 110.1,498.5 111.1,499.0 112.1,499.0 113.1,499.4 114.1,501.1 115.1,501.9 116.1,502.7 117.1,503.4 118.1,504.9 119.1,507.7 120.1,506.8 121.1,504.4 122.1,500.4 123.1,497.2 124.1,496.0 125.1,494.2 126.1,490.4 127.1,487.3 128.1,485.0 129.1,482.1 130.1,481.0 131.1,479.7 132.1,477.9 133.1,477.6 134.1,476.7 135.1,475.4 136.1,474.3 137.1,474.4 138.1,474.7 139.1,474.9 140.1,476.3 141.1,478.1 142.1,480.3 143.1,481.9 144.1,483.4 145.1,484.9 146.1,486.5 147.1,488.7 148.1,491.1 149.1,493.3 150.1,496.1 151.1,497.4 152.1,499.2 153.1,501.2 154.1,502.7 155.1,503.4 156.1,504.1 157.1,505.4 158.1,506.6 159.1,507.5 160.1,508.2 161.1,509.6 162.1,510.9 163.1,510.7 164.1,509.8 165.1,510.5 166.1,510.7 167.1,510.8 168.1,511.4 169.1,512.3 170.1,512.8 171.1,513.1 172.1,513.9 173.1,514.5 174.1,513.7 175.1,513.8 176.1,515.0 177.1,515.1 178.1,514.2 179.1,513.7 180.1,512.7 181.1,514.3 182.1,516.2 183.1,517.1 184.1,517.5 185.1,518.4 186.1,517.4 187.1,516.2 188.1,516.4 189.1,518.0 190.1,519.4 191.1,517.9 192.1,516.3 193.1,515.4 194.1,516.5 195.1,518.3 196.1,516.7 197.1,514.9 198.1,514.2 199.1,515.0 200.1,515.6 201.1,516.8 202.1,518.0 203.1,519.3 204.1,519.5 205.1,520.0 206.1,519.6 207.1,520.4 208.1,521.7 209.1,522.1 210.1,522.6 211.1,522.8 212.1,522.5 213.1,522.3 214.1,521.2 215.1,521.1 216.1,520.4 217.1,519.7 218.1,518.5 219.1,516.9 220.1,516.0 221.1,515.8 222.1,516.0 223.1,516.7 224.1,517.4 225.1,516.6 226.1,515.6 227.1,514.9 228.1,514.3 229.1,513.5 230.1,512.0 231.1,512.9 232.1,513.5 233.1,514.2 234.1,516.2 235.1,517.5 236.1,518.4 237.1,519.4 238.1,519.4 239.1,518.4 240.1,516.9 241.1,517.2 242.1,518.8 243.1,520.0 244.1,521.6 245.1,522.8 246.1,523.5 247.1,524.7 248.1,525.7 249.1,525.9 250.1,526.6 251.1,527.0 252.1,527.6 253.1,527.7 254.1,527.0 255.1,526.1 256.1,526.0 257.1,526.8 258.1,527.6 259.1,526.9 260.1,525.6 261.1,526.5 262.1,528.4 263.1,529.2 264.1,529.0 265.1,530.1 266.1,530.6 267.1,530.2 268.1,530.3 269.1,531.0 270.1,531.4 271.1,531.3 272.1,531.0 273.1,531.0 274.1,532.0 275.1,533.0 276.1,532.8 277.1,531.5 278.1,530.7 279.1,531.4 280.1,531.5 281.1,532.2 282.1,533.2 283.1,534.2 284.1,533.5 285.1,532.6 286.1,531.8 287.1,531.5 288.1,530.5 289.1,530.7 290.1,531.7 291.1,532.6 292.1,534.1 293.1,534.5 294.1,533.5 295.1,532.9 296.1,532.1 297.1,531.6 298.1,531.3 299.1,531.9 300.1,532.8 301.1,533.2 302.1,532.7 303.1,533.3 304.1,533.4 305.1,533.2 306.1,532.5 307.1,532.1 308.1,531.3 309.1,531.4 310.1,532.4 311.1,531.9 312.1,530.8 313.1,530.3 314.1,530.1 315.1,529.7 316.1,529.0 317.1,528.5 318.1,527.6 319.1,527.3 320.1,528.1 321.1,528.5 322.1,528.1 323.1,527.7 324.1,527.7 325.1,527.6 326.1,528.4 327.1,529.9 328.1,530.3 329.1,530.8 330.1,531.3 331.1,531.5 332.1,532.9 333.1,533.0 334.1,531.9 335.1,530.4 336.1,531.1 337.1,532.2 338.1,532.5 339.1,531.6 340.1,530.9 341.1,533.0 342.1,534.4 343.1,533.9 344.1,533.0 345.1,532.7 346.1,533.3 347.1,534.6 348.1,534.7 349.1,533.0 350.1,531.9 351.1,532.7 352.1,533.3 353.1,533.3 354.1,532.8 355.1,532.3 356.1,532.8 357.1,533.5 358.1,533.5 359.1,532.5 360.1,532.1 361.1,531.7 362.1,532.8 363.1,534.0 364.1,534.4 365.1,535.7 366.1,535.2 367.1,533.7 368.1,533.3 369.1,533.9 370.1,535.0 371.1,535.9 372.1,536.9 373.1,537.3 374.1,535.6 375.1,534.0 376.1,534.1 377.1,534.4 378.1,535.2 379.1,534.3 380.1,533.0 381.1,534.1 382.1,534.8 383.1,535.3 384.1,535.7 385.1,536.7 386.1,536.3 387.1,535.3 388.1,534.4 389.1,534.1 390.1,534.9 391.1,534.9 392.1,535.2 393.1,535.9 394.1,534.6 395.1,533.4 396.1,533.4 397.1,534.4 398.1,535.3 399.1,536.2 400.1,536.2 401.1,535.6 402.1,534.0 403.1,533.4 404.1,533.3 405.1,533.7 406.1,534.2 407.1,534.2 408.1,534.6 409.1,533.8 410.1,532.9 411.1,533.0 412.1,533.1 413.1,533.1 414.1,533.0 415.1,532.3 416.1,532.1 417.1,533.2 418.1,534.2 419.1,532.5 420.1,530.9 421.1,531.4 422.1,532.6 423.1,533.2 424.1,532.3 425.1,532.2 426.1,532.2 427.1,532.3 428.1,533.1 429.1,532.6 430.1,531.5 431.1,530.9 432.1,530.1 433.1,529.2 434.1,530.0 435.1,530.7 436.1,530.8 437.1,530.3 438.1,531.1 439.1,529.9 440.1,528.1 441.1,527.6 442.1,528.8 443.1,530.0 444.1,529.0 445.1,527.9 446.1,527.3 447.1,528.5 448.1,529.1 449.1,527.1 450.1,525.6 451.1,525.9 452.1,526.9 453.1,527.2 454.1,528.8 455.1,529.6 456.1,529.2 457.1,529.0 458.1,529.4 459.1,529.2 460.1,528.4 461.1,527.3 462.1,526.0 463.1,524.2 464.1,521.8 465.1,519.3 466.1,515.5 467.1,510.9 468.1,506.3 469.1,503.1 470.1,499.6 471.1,496.4 472.1,494.4 473.1,492.6 474.1,493.0 475.1,493.1 476.1,493.8 477.1,495.0 478.1,499.1 479.1,505.0 480.1,513.6 481.1,518.9 482.1,521.5 483.1,524.4 484.1,526.0 485.1,526.6 486.1,526.9 487.1,527.5 488.1,528.5 489.1,527.8 490.1,527.2 491.1,526.2 492.1,526.4 493.1,527.2 494.1,527.6 495.1,527.2 496.1,527.3 497.1,527.2 498.1,526.9 499.1,526.4 500.1,526.0 501.1,525.1 502.1,523.4 503.1,523.2 504.1,522.3 505.1,521.9 506.1,523.2 507.1,525.1 508.1,526.6 509.1,526.3 510.1,527.2 511.1,527.4 512.1,526.9 513.1,527.6 514.1,527.2 515.1,526.0 516.1,525.5 517.1,527.0 518.1,526.6 519.1,526.4 520.1,527.3 521.1,528.3 522.1,528.9 523.1,528.0 524.1,526.9 525.1,527.1 526.1,527.7 527.1,528.1 528.1,528.1 529.1,527.7 530.1,527.3 531.1,527.7 532.1,528.3 533.1,529.3 534.1,528.9 535.1,528.6 536.1,527.3 537.1,526.6 538.1,525.8 539.1,525.2 540.1,526.1 541.1,526.7 542.1,527.6 543.1,529.3 544.1,531.0 545.1,531.6 546.1,531.7 547.1,532.7 548.1,532.4 549.1,530.9 550.1,530.4 551.1,529.5 552.1,528.3 553.1,527.3 554.1,526.3 555.1,525.7 556.1,524.3 557.1,522.1 558.1,520.3 559.1,519.2 560.1,518.1 561.1,517.2 562.1,516.1 563.1,515.8 564.1,515.4 565.1,514.4 566.1,512.8 567.1,511.4 568.1,511.4 569.1,510.4 570.1,509.8 571.1,509.3 572.1,508.6 573.1,509.8 574.1,510.8 575.1,511.5 576.1,512.3 577.1,514.0 578.1,515.6 579.1,517.7 580.1,519.9 581.1,521.5 582.1,523.7 583.1,523.9 584.1,523.9 585.1,524.4 586.1,525.4 587.1,526.0 588.1,525.4 589.1,525.0 590.1,524.7 591.1,523.5 592.1,523.1 593.1,523.4 594.1,523.3 595.1,522.1 596.1,522.1 597.1,523.3 598.1,523.7 599.1,524.5 600.1,525.3 601.1,526.0 602.1,524.7 603.1,523.6 604.1,523.4 605.1,524.6 606.1,525.0 607.1,525.1 608.1,526.9 609.0,527.3" fill="none" stroke="#000000" stroke-width="1.6" stroke-linejoin="round" stroke-linecap="round"/>
<line x1="13.7" y1="542.3" x2="609.5" y2="542.3" stroke="#333" stroke-width="1.2"/>
<line x1="23.3" y1="542.3" x2="23.3" y2="545.3" stroke="#333" stroke-width="1"/>
<line x1="169.7" y1="542.3" x2="169.7" y2="545.3" stroke="#333" stroke-width="1"/>
<line x1="316.1" y1="542.3" x2="316.1" y2="545.3" stroke="#333" stroke-width="1"/>
<line x1="462.4" y1="542.3" x2="462.4" y2="545.3" stroke="#333" stroke-width="1"/>
<line x1="608.8" y1="542.3" x2="608.8" y2="545.3" stroke="#333" stroke-width="1"/>
<line x1="96.5" y1="542.3" x2="96.5" y2="547.8" stroke="#333" stroke-width="1"/>
<text x="96.6" y="565.5" font-size="16" text-anchor="middle" >1000</text>
<line x1="242.9" y1="542.3" x2="242.9" y2="547.8" stroke="#333" stroke-width="1"/>
<text x="242.9" y="565.5" font-size="16" text-anchor="middle" >2000</text>
<line x1="389.2" y1="542.3" x2="389.2" y2="547.8" stroke="#333" stroke-width="1"/>
<text x="389.3" y="565.5" font-size="16" text-anchor="middle" >3000</text>
<line x1="536.5" y1="542.3" x2="536.5" y2="547.8" stroke="#333" stroke-width="1"/>
<text x="536.8" y="565.5" font-size="16" text-anchor="middle" >4000</text>
<text x="317.7" y="587" font-size="18" text-anchor="middle" >Wavenumber (cm<tspan dy="-6.5" font-size="11.5">-1</tspan><tspan dy="6.5">)</tspan></text>
<text x="1.5" y="14.3" font-size="18" text-anchor="start" font-weight="bold">(A)</text>
<text x="624.6" y="137" font-size="16" text-anchor="start" >intact</text>
<text x="620" y="233.6" font-size="16" text-anchor="start" >400 ºC</text>
<text x="620" y="275" font-size="16" text-anchor="start" >500 ºC</text>
<text x="620" y="308.5" font-size="16" text-anchor="start" >600 ºC</text>
<text x="620" y="347.5" font-size="16" text-anchor="start" >700 ºC</text>
<text x="620" y="368.5" font-size="16" text-anchor="start" >800 ºC</text>
<text x="620" y="426.6" font-size="16" text-anchor="start" >900 ºC</text>
<text x="612.6" y="455" font-size="16" text-anchor="start" >1000 ºC</text>
<text x="625" y="525.2" font-size="16" text-anchor="start" >HAp</text>
<text transform="translate(159.5,48) rotate(-90)" font-size="16.5" text-anchor="start"><tspan font-style="italic">δ</tspan>(CH<tspan dy="3" font-size="10.5">2</tspan><tspan dy="-3">)</tspan></text>
<text transform="translate(205,121) rotate(-90)" font-size="16.3" text-anchor="start">amide I</text>
<text transform="translate(395,91.5) rotate(-90)" font-size="17" text-anchor="start"><tspan font-style="italic">ν</tspan>(CH<tspan dy="3" font-size="10.5">2</tspan><tspan dy="-3">)</tspan></text>
<text transform="translate(454.5,147.5) rotate(-90)" font-size="17" text-anchor="start"><tspan font-style="italic">ν</tspan>(OH)<tspan dy="3.5" font-size="10.3">water</tspan></text>
<text transform="translate(47.3,468) rotate(-90)" font-size="16" text-anchor="start">(OH)<tspan dy="3.5" font-size="10.5">lib</tspan></text>
<text transform="translate(495.5,517.5) rotate(-90)" font-size="17" text-anchor="start"><tspan font-style="italic">ν</tspan>(OH)</text>
<text x="116.5" y="471" font-size="14.3" text-anchor="start" >1<tspan dy="-5.5" font-size="10">st</tspan><tspan dy="5.5"> overt</tspan></text>
<text x="207.2" y="506.3" font-size="14.3" text-anchor="start" >2<tspan dy="-5.5" font-size="10">nd</tspan><tspan dy="5.5"> overt</tspan></text>
<text x="303.3" y="520.8" font-size="14.3" text-anchor="start" >3<tspan dy="-5.5" font-size="10">rd</tspan><tspan dy="5.5"> overt</tspan></text>
<text x="555.4" y="504.2" font-size="14.6" text-anchor="start" >comb</text>
<polyline points="184.1,687.8 185.1,690.4 186.1,696.5 187.1,704.0 188.1,710.0 189.1,713.3 190.1,716.6 191.1,720.7 192.1,725.2 193.1,730.3 194.1,733.2 195.1,735.6 196.1,738.0 197.1,740.0 198.1,741.7 199.1,742.7 200.1,744.8 201.1,746.0 202.1,745.7 203.1,744.1 204.1,743.2 205.1,741.8 206.1,739.1 207.1,736.5 208.1,735.6 209.1,735.1 210.1,735.2 211.1,733.9 212.1,732.2 213.1,729.7 214.1,726.6 215.1,723.1 216.1,719.4 217.1,715.4 218.1,710.3 219.1,709.0 220.1,708.1 221.1,707.9 222.1,707.0 223.1,704.7 224.1,702.0 225.1,698.3 226.1,695.4 227.1,692.2 228.1,688.3 229.1,685.1 230.1,685.6 231.1,689.0 232.1,692.5 233.1,690.8 234.1,684.0 235.1,678.0 236.1,675.4 237.1,673.5 238.1,673.6 239.1,672.9 240.1,672.5 241.1,672.8 242.1,672.6 243.1,672.0 244.1,672.7 245.1,672.8 246.1,672.5 247.1,672.6 248.1,673.2 249.1,673.1 250.1,673.4 251.1,673.3 252.1,674.4 253.1,677.4 254.1,679.6 255.1,682.6 256.1,686.1 257.1,689.3 258.1,687.2 259.1,683.4 260.1,680.2 261.1,679.2 262.1,680.6 263.1,683.1 264.1,686.9 265.1,690.6 266.1,690.3 267.1,690.5 268.1,691.0 269.1,690.4 270.1,690.1 271.1,689.9 272.1,689.8 273.1,691.5 274.1,693.3 275.1,695.3 276.1,696.1 277.1,697.5 278.1,699.8 279.1,701.6 280.1,702.8 281.1,703.9 282.1,705.6 283.1,706.8 284.1,709.0 285.1,711.2 286.1,713.5 287.1,715.8 288.1,717.6 289.1,719.8 290.1,721.7 291.1,723.7 292.1,726.7 293.1,728.9 294.1,729.9 295.1,730.8 296.1,730.7 297.1,731.8 298.1,732.4 299.1,732.3 300.1,732.3 301.1,733.0 302.1,733.5 303.1,734.5 304.1,735.7 305.1,736.9 306.1,737.8 307.1,738.9 308.1,738.8 309.1,740.1 310.1,741.7 311.1,742.6 312.1,744.3 313.1,745.4 314.1,746.3 315.1,742.9 316.1,740.0 317.1,738.7 318.1,739.0 319.1,743.0 320.1,748.2 321.1,748.4 322.1,748.2 323.1,748.9 324.1,748.7 325.1,748.5 326.1,748.7 327.1,748.2 328.1,749.6 329.1,752.3 330.1,754.6 331.1,757.8 332.1,757.7 333.1,757.1 334.1,755.6 335.1,752.4 336.1,751.8 337.1,751.8 338.1,751.8 339.1,751.9 340.1,751.0 341.1,752.0 342.1,753.0 343.1,753.1 344.1,753.5 345.1,754.5 346.1,753.9 347.1,752.4 348.1,750.7 349.1,750.7 350.1,750.4 351.1,748.8 352.1,749.7 353.1,753.1 354.1,752.4 355.1,752.1 356.1,753.7 357.1,755.5 358.1,757.2 359.1,758.5 360.1,760.1 361.1,761.5 362.1,762.3 363.1,760.7 364.1,756.5 365.1,750.9 366.1,749.6 367.1,749.5 368.1,749.0 369.1,748.7 370.1,748.6 371.1,745.2 372.1,742.5 373.1,743.8 374.1,744.7 375.1,745.0 376.1,743.8 377.1,740.3 378.1,736.7 379.1,735.2 380.1,733.8 381.1,731.9 382.1,729.2 383.1,724.2 384.1,717.1 385.1,708.6 386.1,702.8 387.1,700.4 388.1,698.9 389.1,696.7 390.1,691.7 391.1,688.1 392.1,686.0 393.1,684.6 394.1,683.3 395.1,681.1 396.1,680.2 397.1,679.1 398.1,677.7 399.1,678.3 400.1,681.4 401.1,685.4 402.1,690.2 403.1,692.8 404.1,690.5 405.1,687.8 406.1,687.7 407.1,688.0 408.1,691.8 409.1,689.5 410.1,687.8 411.1,688.3 412.1,689.6 413.1,688.1 414.1,688.9 415.1,690.3 416.1,692.1 417.1,694.6 418.1,698.9 419.1,706.6 420.1,709.9 421.1,711.1 422.1,711.7 423.1,710.4 424.1,707.3 425.1,700.6 426.1,692.3 427.1,682.9 428.1,674.9 429.1,668.4 430.1,663.6 431.1,662.2 432.1,671.8 433.1,685.8 434.1,701.5 435.1,716.1 436.1,727.2 437.1,734.9 438.1,740.6 439.1,745.0 440.1,747.7 441.1,748.7 442.1,749.9 443.1,750.4 444.1,749.4 445.1,745.7 446.1,742.3 447.1,738.9 448.1,736.7 449.1,736.1 450.1,735.3 451.1,731.7 452.1,729.0 453.1,726.1 454.1,724.8 455.1,726.4 456.1,730.1 457.1,733.5 458.1,736.0 459.1,738.4 460.1,739.1 461.1,737.4 462.1,736.3 463.1,735.3 464.1,734.3 465.1,732.9 466.1,731.8 467.1,731.2 468.1,730.2 469.1,729.4 470.1,731.5 471.1,730.3 472.1,728.9 473.1,729.0 474.1,730.2 475.1,726.9 476.1,725.6 477.1,724.7 478.1,723.4 479.1,723.8 480.1,726.5 481.1,730.4 482.1,733.1 483.1,734.6 484.1,736.4 485.1,739.0 486.1,739.5 487.1,740.3 488.1,742.2 489.1,746.4 490.1,750.5 491.1,753.5 492.1,753.9 493.1,752.8 494.1,752.0 495.1,750.5 496.1,749.4 497.1,749.4 498.1,748.9 499.1,748.1 500.1,747.2 501.1,748.0 502.1,749.2 503.1,750.3 504.1,751.4 505.1,753.5 505.4,753.1" fill="none" stroke="#EE7A30" stroke-width="1.6" stroke-linejoin="round" stroke-linecap="round"/>
<polyline points="166.6,699.1 167.6,711.7 168.6,713.6 169.6,710.6 170.6,712.9 171.6,719.3 172.6,725.3 173.6,727.1 174.6,727.8 175.6,729.8 176.6,732.8 177.6,735.9 178.6,738.5 179.6,740.8 180.6,744.2 181.6,750.3 182.6,749.9 183.6,746.8 184.6,750.1 185.6,754.3 186.6,758.6 187.6,763.1 188.6,766.9 189.6,768.4 190.6,770.6 191.6,772.3 192.6,775.0 193.6,778.1 194.6,781.7 195.6,786.9 196.6,789.0 197.6,788.0 198.6,787.3 199.6,787.9 200.6,789.3 201.6,788.9 202.6,789.0 203.6,789.6 204.6,789.0 205.6,788.3 206.6,788.2 207.6,787.7 208.6,786.8 209.6,785.2 210.6,782.1 211.6,778.3 212.6,773.8 213.6,769.1 214.6,767.8 215.6,766.8 216.6,764.9 217.6,763.1 218.6,760.9 219.6,758.1 220.6,755.1 221.6,755.3 222.6,757.6 223.6,757.4 224.6,755.0 225.6,752.4 226.6,750.8 227.6,751.8 228.6,753.3 229.6,751.6 230.6,749.4 231.6,747.9 232.6,746.9 233.6,742.6 234.6,739.6 235.6,743.4 236.6,743.6 237.6,740.8 238.6,737.6 239.6,734.0 240.6,730.5 241.6,727.9 242.6,726.6 243.6,725.4 244.6,723.8 245.6,722.6 246.6,721.3 247.6,720.0 248.6,719.9 249.6,719.9 250.6,719.8 251.6,718.3 252.6,715.5 253.6,714.4 254.6,715.8 255.6,715.1 256.6,711.8 257.6,713.6 258.6,717.4 259.6,714.0 260.6,709.1 261.6,707.3 262.6,705.4 263.6,704.4 264.6,704.9 265.6,707.0 266.6,710.5 267.6,713.8 268.6,716.6 269.6,723.3 270.6,724.2 271.6,721.8 272.6,730.5 273.6,729.6 274.6,734.9 275.6,740.4 276.6,742.9 277.6,744.6 278.6,741.6 279.6,742.6 280.6,745.3 281.6,747.3 282.6,744.3 283.6,746.4 284.6,748.3 285.6,747.0 286.6,744.6 287.6,751.2 288.6,746.4 289.6,747.5 290.6,751.6 291.6,752.2 292.6,750.2 293.6,752.8 294.6,753.5 295.6,751.4 296.6,749.0 297.6,754.2 298.6,756.7 299.6,752.5 300.6,750.9 301.6,757.2 302.6,759.4 303.6,757.2 304.6,757.6 305.6,758.6 306.6,756.3 307.6,759.6 308.6,763.2 309.6,764.8 310.6,766.3 311.6,767.8 312.6,761.8 313.6,763.2 314.6,766.1 315.6,768.8 316.6,769.7 317.6,772.8 318.6,775.2 319.6,777.6 320.6,778.5 321.6,775.9 322.6,779.2 323.6,781.0 324.6,780.6 325.6,779.6 326.6,781.4 327.6,782.3 328.6,783.9 329.6,784.6 330.6,785.6 331.6,786.6 332.6,787.4 333.6,788.9 334.6,790.1 335.6,791.5 336.6,792.7 337.6,795.6 338.6,795.9 339.6,793.8 340.6,792.0 341.6,790.5 342.6,790.2 343.6,790.2 344.6,790.9 345.6,792.1 346.6,793.1 347.6,793.4 348.6,793.5 349.6,793.7 350.6,792.5 351.6,795.4 352.6,798.1 353.6,798.9 354.6,796.2 355.6,792.3 356.6,796.0 357.6,793.6 358.6,790.5 359.6,788.1 360.6,788.0 361.6,795.9 362.6,797.9 363.6,797.3 364.6,794.8 365.6,791.2 366.6,789.7 367.6,786.5 368.6,784.8 369.6,784.6 370.6,786.6 371.6,788.4 372.6,787.6 373.6,786.6 374.6,785.5 375.6,786.9 376.6,788.5 377.6,786.3 378.6,786.0 379.6,788.5 380.6,792.2 381.6,788.9 382.6,785.5 383.6,785.2 384.6,786.5 385.6,782.7 386.6,784.3 387.6,783.4 388.6,781.1 389.6,779.6 390.6,779.1 391.6,778.9 392.6,777.9 393.6,775.4 394.6,773.3 395.6,775.1 396.6,778.4 397.6,780.4 398.6,781.5 399.6,782.9 400.6,780.8 401.6,783.4 402.6,782.8 403.6,781.9 404.6,783.5 405.6,786.1 406.6,784.3 407.6,784.1 408.6,784.0 409.6,782.8 410.6,786.7 411.6,786.0 412.6,786.2 413.6,785.9 414.6,782.6 415.6,781.8 416.6,779.9 417.6,780.2 418.6,781.8 419.6,783.5 420.6,785.2 421.6,783.7 422.6,785.5 423.6,789.4 424.6,786.0 425.6,781.9 426.6,781.7 427.6,785.0 428.6,784.1 429.6,779.7 430.6,779.4 431.6,782.2 432.6,783.8 433.6,781.2 434.6,783.7 435.6,788.0 436.6,789.5 437.6,787.5 438.6,784.1 439.6,789.3 440.6,791.7 441.6,788.2 442.6,784.2 443.6,785.9 444.6,788.3 445.6,789.1 446.6,787.4 447.6,788.4 448.6,787.8 449.6,787.2 450.6,786.4 451.6,785.2 452.6,787.0 453.6,789.0 454.6,789.6 455.6,787.1 456.6,779.1 457.6,776.2 458.6,778.7 459.6,775.7 460.6,771.1 461.6,769.6 462.6,771.7 463.6,769.8 464.6,767.0 465.6,764.3 466.6,763.5 467.6,761.1 468.6,763.1 469.6,761.4 470.6,759.0 471.6,761.4 472.6,759.4 473.6,757.1 474.6,754.3 475.6,751.1 476.6,748.2 477.6,750.4 478.6,754.4 479.6,758.7 480.6,761.9 481.6,764.8 482.6,760.5 483.6,762.2 484.6,764.8 485.6,765.8 486.6,768.3 487.6,769.3 488.6,771.1 489.6,772.4 490.6,772.2 491.6,769.2 492.6,775.3 493.6,780.6 494.6,780.9 495.6,779.3 496.6,783.7 497.6,785.3 498.6,784.6 499.6,775.8 500.6,766.7 501.6,771.1 502.6,778.8 502.9,779.5" fill="none" stroke="#1FAA55" stroke-width="1.6" stroke-linejoin="round" stroke-linecap="round"/>
<polyline points="136.1,763.0 137.1,758.3 138.1,760.4 139.1,769.5 140.1,771.6 141.1,770.0 142.1,762.7 143.1,754.6 144.1,751.7 145.1,754.9 146.1,762.0 147.1,771.6 148.1,771.4 149.1,765.4 150.1,767.3 151.1,772.4 152.1,780.1 153.1,784.9 154.1,784.2 155.1,782.4 156.1,781.9 157.1,785.9 158.1,789.8 159.1,791.1 160.1,790.5 161.1,789.8 162.1,792.3 163.1,798.3 164.1,804.5 165.1,807.4 166.1,806.0 167.1,799.5 168.1,794.2 169.1,792.8 170.1,796.4 171.1,801.3 172.1,800.6 173.1,798.0 174.1,803.8 175.1,806.4 176.1,807.4 177.1,809.2 178.1,811.9 179.1,812.4 180.1,810.5 181.1,810.6 182.1,812.2 183.1,816.0 184.1,821.0 185.1,825.8 186.1,831.2 187.1,833.0 188.1,831.4 189.1,830.6 190.1,830.0 191.1,829.4 192.1,828.2 193.1,827.7 194.1,828.7 195.1,830.1 196.1,830.0 197.1,829.1 198.1,827.8 199.1,826.4 200.1,825.3 201.1,824.9 202.1,825.1 203.1,824.5 204.1,817.4 205.1,813.7 206.1,814.2 207.1,819.2 208.1,824.0 209.1,822.8 210.1,821.2 211.1,816.5 212.1,810.6 213.1,805.1 214.1,804.4 215.1,808.3 216.1,807.4 217.1,802.8 218.1,798.5 219.1,796.9 220.1,795.1 221.1,796.7 222.1,804.5 223.1,807.1 224.1,800.2 225.1,796.8 226.1,797.9 227.1,800.5 228.1,797.1 229.1,794.1 230.1,793.9 231.1,793.4 232.1,790.0 233.1,783.4 234.1,776.2 235.1,771.1 236.1,767.7 237.1,766.3 238.1,764.1 239.1,764.4 240.1,767.6 241.1,775.1 242.1,778.8 243.1,772.3 244.1,766.2 245.1,763.9 246.1,764.9 247.1,772.6 248.1,773.3 249.1,769.5 250.1,764.7 251.1,755.9 252.1,748.2 253.1,743.8 254.1,741.9 255.1,742.9 256.1,746.7 257.1,753.5 258.1,765.6 259.1,776.0 260.1,776.0 261.1,769.1 262.1,762.2 263.1,761.7 264.1,763.4 265.1,770.2 266.1,778.5 267.1,788.5 268.1,795.0 269.1,799.6 270.1,802.0 271.1,803.5 272.1,799.8 273.1,792.5 274.1,788.1 275.1,785.9 276.1,785.8 277.1,790.0 278.1,795.2 279.1,796.4 280.1,794.2 281.1,796.4 282.1,799.0 283.1,798.6 284.1,796.4 285.1,797.9 286.1,796.7 287.1,796.4 288.1,795.7 289.1,797.0 290.1,798.5 291.1,796.8 292.1,794.6 293.1,795.3 294.1,798.1 295.1,803.1 296.1,808.3 297.1,808.6 298.1,807.7 299.1,812.7 300.1,818.2 301.1,816.3 302.1,813.0 303.1,810.1 304.1,807.3 305.1,804.5 306.1,805.8 307.1,806.6 308.1,805.6 309.1,804.6 310.1,806.2 311.1,806.3 312.1,807.1 313.1,808.4 314.1,809.2 315.1,809.8 316.1,811.8 317.1,812.5 318.1,813.6 319.1,818.2 320.1,820.3 321.1,822.7 322.1,824.6 323.1,824.7 324.1,820.7 325.1,823.6 326.1,826.3 327.1,827.8 328.1,827.7 329.1,824.7 330.1,827.4 331.1,830.3 332.1,833.2 333.1,834.9 334.1,835.7 335.1,836.8 336.1,838.0 337.1,837.4 338.1,834.3 339.1,830.3 340.1,828.2 341.1,831.2 342.1,835.2 343.1,835.0 344.1,828.2 345.1,830.0 346.1,831.4 347.1,833.3 348.1,837.8 349.1,841.8 350.1,844.5 351.1,844.1 352.1,839.7 353.1,834.5 354.1,833.3 355.1,834.7 356.1,837.7 357.1,839.2 358.1,837.3 359.1,835.7 360.1,834.4 361.1,833.5 362.1,834.2 363.1,837.3 364.1,833.6 365.1,831.5 366.1,831.2 367.1,832.8 368.1,834.6 369.1,829.7 370.1,831.1 371.1,834.8 372.1,836.2 373.1,831.7 374.1,830.4 375.1,829.0 376.1,828.2 377.1,830.3 378.1,833.6 379.1,830.6 380.1,827.6 381.1,826.9 382.1,829.0 383.1,827.6 384.1,824.9 385.1,827.2 386.1,830.8 387.1,834.4 388.1,836.1 389.1,834.9 390.1,831.9 391.1,832.7 392.1,836.7 393.1,834.9 394.1,832.4 395.1,830.0 396.1,827.1 397.1,824.5 398.1,822.0 399.1,827.0 400.1,825.8 401.1,821.0 402.1,815.7 403.1,813.3 404.1,816.0 405.1,824.2 406.1,832.5 407.1,835.1 408.1,831.4 409.1,826.0 410.1,825.9 411.1,827.4 412.1,828.6 413.1,826.4 414.1,829.3 415.1,829.0 416.1,828.7 417.1,831.0 418.1,829.5 419.1,828.0 420.1,827.9 421.1,829.3 422.1,831.5 423.1,835.6 424.1,836.2 425.1,832.6 426.1,826.2 427.1,822.2 428.1,820.5 429.1,822.8 430.1,827.2 431.1,824.1 432.1,821.1 433.1,819.3 434.1,818.6 435.1,820.0 436.1,821.2 437.1,822.8 438.1,824.4 439.1,825.0 440.1,825.4 441.1,827.4 442.1,828.8 443.1,827.8 444.1,825.6 445.1,826.8 446.1,829.2 447.1,828.2 448.1,825.8 449.1,823.8 450.1,827.5 451.1,833.3 452.1,834.0 453.1,831.9 454.1,825.3 455.1,822.3 456.1,821.6 457.1,823.1 458.1,823.2 459.1,820.3 460.1,819.6 461.1,819.6 462.1,819.0 463.1,815.8 464.1,810.3 465.1,808.7 466.1,807.0 467.1,808.7 468.1,810.5 469.1,808.5 470.1,806.0 471.1,810.2 472.1,813.7 473.1,813.2 474.1,808.3 475.1,806.5 476.1,803.5 477.1,798.6 478.1,793.1 479.1,788.8 480.1,787.2 481.1,789.0 482.1,792.1 483.1,791.7 484.1,785.5 485.1,785.0 486.1,787.4 487.1,790.3 488.1,792.7 489.1,795.4 490.1,791.3 491.1,791.5 492.1,794.4 493.1,797.2 494.1,797.4 495.1,799.5 496.1,801.2 497.1,799.5 498.1,797.7 499.1,802.1 500.1,803.3 501.1,799.4 502.1,795.3 503.1,795.4 504.1,797.1 505.1,802.9 506.1,811.2 506.6,813.4" fill="none" stroke="#1A2868" stroke-width="1.6" stroke-linejoin="round" stroke-linecap="round"/>
<polyline points="125.2,767.4 126.2,769.8 127.2,767.2 128.2,759.0 129.2,753.6 130.2,751.3 131.2,749.2 132.2,748.3 133.2,743.3 134.2,744.2 135.2,750.4 136.2,749.2 137.2,742.5 138.2,733.7 139.2,727.9 140.2,724.1 141.2,720.3 142.2,716.5 143.2,715.7 144.2,717.8 145.2,720.8 146.2,730.7 147.2,736.6 148.2,736.3 149.2,727.3 150.2,722.9 151.2,725.1 152.2,734.3 153.2,748.6 154.2,750.1 155.2,742.7 156.2,746.0 157.2,757.5 158.2,775.6 159.2,785.3 160.2,789.2 161.2,792.8 162.2,791.9 163.2,791.6 164.2,795.8 165.2,800.4 166.2,806.3 167.2,809.3 168.2,809.8 169.2,803.9 170.2,800.7 171.2,805.0 172.2,811.6 173.2,814.7 174.2,812.6 175.2,817.9 176.2,822.6 177.2,827.1 178.2,828.7 179.2,825.1 180.2,830.7 181.2,834.8 182.2,838.6 183.2,843.3 184.2,847.6 185.2,851.8 186.2,855.7 187.2,858.2 188.2,859.0 189.2,853.8 190.2,857.5 191.2,858.5 192.2,860.4 193.2,864.4 194.2,869.0 195.2,872.2 196.2,871.0 197.2,868.2 198.2,866.7 199.2,868.4 200.2,869.0 201.2,865.0 202.2,858.0 203.2,853.2 204.2,850.6 205.2,855.4 206.2,855.7 207.2,853.1 208.2,847.6 209.2,842.9 210.2,845.0 211.2,847.6 212.2,850.9 213.2,853.4 214.2,853.2 215.2,853.5 216.2,853.7 217.2,853.4 218.2,853.4 219.2,855.2 220.2,856.8 221.2,856.1 222.2,855.1 223.2,854.3 224.2,850.5 225.2,849.4 226.2,846.9 227.2,844.1 228.2,841.6 229.2,844.4 230.2,849.0 231.2,848.4 232.2,845.4 233.2,840.1 234.2,835.6 235.2,830.9 236.2,827.4 237.2,824.3 238.2,819.7 239.2,817.1 240.2,816.0 241.2,815.1 242.2,815.7 243.2,821.2 244.2,822.2 245.2,817.8 246.2,810.7 247.2,804.2 248.2,799.6 249.2,797.6 250.2,796.0 251.2,793.3 252.2,792.0 253.2,794.6 254.2,798.7 255.2,800.5 256.2,798.5 257.2,794.8 258.2,795.6 259.2,799.3 260.2,802.2 261.2,800.1 262.2,800.3 263.2,808.0 264.2,817.0 265.2,822.2 266.2,823.9 267.2,828.6 268.2,830.9 269.2,833.4 270.2,834.7 271.2,828.8 272.2,832.4 273.2,836.4 274.2,840.3 275.2,842.4 276.2,837.9 277.2,835.6 278.2,837.3 279.2,843.4 280.2,852.7 281.2,854.3 282.2,855.2 283.2,853.1 284.2,852.1 285.2,856.8 286.2,855.1 287.2,850.9 288.2,845.9 289.2,842.7 290.2,840.4 291.2,841.5 292.2,845.1 293.2,849.3 294.2,850.9 295.2,847.8 296.2,849.6 297.2,848.4 298.2,844.9 299.2,840.9 300.2,838.5 301.2,843.2 302.2,851.8 303.2,853.8 304.2,851.3 305.2,849.0 306.2,849.8 307.2,850.3 308.2,851.9 309.2,853.4 310.2,856.1 311.2,857.4 312.2,855.7 313.2,857.6 314.2,862.9 315.2,863.4 316.2,860.7 317.2,862.7 318.2,864.2 319.2,862.1 320.2,860.1 321.2,862.0 322.2,864.2 323.2,864.1 324.2,861.4 325.2,859.7 326.2,858.4 327.2,855.1 328.2,853.7 329.2,854.5 330.2,859.0 331.2,863.1 332.2,871.2 333.2,874.6 334.2,873.1 335.2,867.9 336.2,868.4 337.2,866.3 338.2,864.4 339.2,867.7 340.2,870.5 341.2,869.9 342.2,866.1 343.2,863.3 344.2,864.4 345.2,868.2 346.2,871.3 347.2,870.1 348.2,868.0 349.2,866.3 350.2,869.8 351.2,868.9 352.2,867.2 353.2,867.7 354.2,872.3 355.2,869.6 356.2,871.2 357.2,873.3 358.2,875.2 359.2,877.7 360.2,875.0 361.2,871.7 362.2,871.9 363.2,874.8 364.2,872.9 365.2,867.8 366.2,863.4 367.2,863.1 368.2,863.8 369.2,867.6 370.2,871.3 371.2,871.6 372.2,869.0 373.2,868.1 374.2,875.0 375.2,871.8 376.2,867.6 377.2,865.0 378.2,864.1 379.2,868.3 380.2,865.5 381.2,863.8 382.2,861.9 383.2,859.0 384.2,860.8 385.2,863.6 386.2,863.8 387.2,862.0 388.2,860.3 389.2,859.8 390.2,857.3 391.2,858.6 392.2,858.7 393.2,854.7 394.2,850.6 395.2,849.2 396.2,852.0 397.2,852.9 398.2,847.4 399.2,846.6 400.2,842.4 401.2,840.6 402.2,840.7 403.2,844.7 404.2,847.8 405.2,845.4 406.2,843.5 407.2,844.8 408.2,849.3 409.2,845.1 410.2,847.8 411.2,852.0 412.2,855.3 413.2,856.1 414.2,859.7 415.2,864.4 416.2,866.8 417.2,867.3 418.2,863.9 419.2,862.1 420.2,858.4 421.2,857.8 422.2,860.0 423.2,864.1 424.2,863.4 425.2,859.4 426.2,854.7 427.2,852.6 428.2,853.1 429.2,856.8 430.2,861.3 431.2,863.2 432.2,859.5 433.2,856.3 434.2,854.4 435.2,854.2 436.2,857.8 437.2,862.6 438.2,865.5 439.2,864.3 440.2,860.7 441.2,855.9 442.2,853.8 443.2,854.4 444.2,857.3 445.2,860.2 446.2,864.2 447.2,863.5 448.2,860.7 449.2,857.8 450.2,856.1 451.2,853.7 452.2,846.2 453.2,842.8 454.2,841.5 455.2,844.9 456.2,852.6 457.2,852.1 458.2,848.8 459.2,844.7 460.2,842.1 461.2,840.1 462.2,842.6 463.2,847.7 464.2,848.9 465.2,844.4 466.2,839.8 467.2,839.0 468.2,839.9 469.2,846.2 470.2,853.4 471.2,854.3 472.2,850.8 473.2,844.6 474.2,839.2 475.2,833.3 476.2,832.4 477.2,830.4 478.2,826.6 479.2,824.2 480.2,819.8 481.2,818.3 482.2,818.7 483.2,822.2 484.2,826.1 485.2,821.9 486.2,824.5 487.2,829.8 488.2,835.7 489.2,838.9 490.2,839.1 491.2,833.2 492.2,830.2 493.2,831.6 494.2,838.5 495.2,840.8 496.2,840.4 497.2,838.0 498.2,833.9 499.2,831.2 500.2,827.6 501.2,828.3 502.2,828.4 503.2,828.6 504.1,829.7" fill="none" stroke="#7538AE" stroke-width="1.6" stroke-linejoin="round" stroke-linecap="round"/>
<polyline points="131.4,813.4 132.4,823.0 133.4,824.1 134.4,823.7 135.4,823.6 136.4,821.7 137.4,817.5 138.4,811.6 139.4,804.0 140.4,796.7 141.4,789.3 142.4,783.7 143.4,779.6 144.4,776.8 145.4,778.5 146.4,784.6 147.4,791.0 148.4,795.2 149.4,796.5 150.4,792.1 151.4,794.0 152.4,798.6 153.4,802.6 154.4,806.0 155.4,810.8 156.4,817.9 157.4,821.3 158.4,826.9 159.4,833.7 160.4,839.8 161.4,843.3 162.4,847.0 163.4,851.0 164.4,855.1 165.4,860.0 166.4,865.0 167.4,863.8 168.4,862.4 169.4,861.8 170.4,858.3 171.4,867.0 172.4,869.7 173.4,865.1 174.4,861.2 175.4,863.9 176.4,867.1 177.4,869.2 178.4,873.2 179.4,877.7 180.4,878.8 181.4,879.5 182.4,882.0 183.4,886.5 184.4,893.1 185.4,899.3 186.4,903.9 187.4,903.3 188.4,908.7 189.4,913.9 190.4,910.5 191.4,905.5 192.4,902.1 193.4,901.2 194.4,904.1 195.4,906.7 196.4,911.8 197.4,916.7 198.4,919.8 199.4,921.3 200.4,917.8 201.4,910.1 202.4,908.1 203.4,908.9 204.4,912.4 205.4,913.2 206.4,909.3 207.4,906.2 208.4,904.5 209.4,902.3 210.4,900.8 211.4,903.0 212.4,905.6 213.4,908.6 214.4,910.8 215.4,912.2 216.4,913.4 217.4,914.9 218.4,915.2 219.4,912.7 220.4,910.8 221.4,908.4 222.4,909.0 223.4,911.2 224.4,912.8 225.4,913.3 226.4,911.1 227.4,908.9 228.4,906.8 229.4,901.8 230.4,894.9 231.4,887.7 232.4,883.8 233.4,881.6 234.4,881.1 235.4,882.4 236.4,882.2 237.4,881.8 238.4,881.3 239.4,880.6 240.4,880.1 241.4,877.6 242.4,875.2 243.4,871.6 244.4,866.1 245.4,860.6 246.4,853.2 247.4,845.1 248.4,838.7 249.4,834.7 250.4,830.7 251.4,826.9 252.4,824.3 253.4,823.4 254.4,824.4 255.4,829.8 256.4,830.9 257.4,829.3 258.4,829.3 259.4,832.1 260.4,835.0 261.4,853.4 262.4,861.5 263.4,867.4 264.4,872.2 265.4,878.4 266.4,885.4 267.4,887.0 268.4,888.5 269.4,885.6 270.4,884.8 271.4,888.3 272.4,897.1 273.4,901.8 274.4,904.3 275.4,905.4 276.4,901.3 277.4,894.4 278.4,897.3 279.4,898.1 280.4,897.1 281.4,901.7 282.4,904.6 283.4,904.4 284.4,901.0 285.4,899.3 286.4,901.7 287.4,905.0 288.4,907.8 289.4,907.1 290.4,901.9 291.4,899.4 292.4,904.0 293.4,908.7 294.4,910.6 295.4,911.0 296.4,908.7 297.4,904.1 298.4,900.6 299.4,900.0 300.4,901.1 301.4,899.8 302.4,897.1 303.4,897.0 304.4,898.7 305.4,902.0 306.4,905.2 307.4,903.9 308.4,901.5 309.4,900.4 310.4,899.2 311.4,897.6 312.4,900.3 313.4,904.4 314.4,907.6 315.4,907.9 316.4,908.7 317.4,911.9 318.4,912.6 319.4,909.0 320.4,906.2 321.4,911.3 322.4,913.4 323.4,911.5 324.4,909.6 325.4,913.4 326.4,915.1 327.4,916.9 328.4,919.3 329.4,920.0 330.4,916.8 331.4,913.9 332.4,910.3 333.4,910.9 334.4,913.3 335.4,911.1 336.4,905.6 337.4,907.9 338.4,913.3 339.4,916.3 340.4,914.2 341.4,912.5 342.4,910.0 343.4,908.3 344.4,908.0 345.4,911.4 346.4,909.3 347.4,910.0 348.4,912.5 349.4,915.2 350.4,916.8 351.4,911.9 352.4,909.7 353.4,911.4 354.4,915.5 355.4,916.6 356.4,910.3 357.4,910.6 358.4,913.9 359.4,915.9 360.4,914.6 361.4,913.0 362.4,914.1 363.4,915.7 364.4,916.7 365.4,918.5 366.4,919.2 367.4,917.0 368.4,913.8 369.4,912.8 370.4,910.8 371.4,908.1 372.4,906.0 373.4,905.2 374.4,906.5 375.4,904.0 376.4,902.6 377.4,901.3 378.4,899.9 379.4,899.2 380.4,899.0 381.4,898.1 382.4,897.1 383.4,894.7 384.4,891.6 385.4,897.7 386.4,894.8 387.4,888.1 388.4,883.1 389.4,881.5 390.4,882.0 391.4,886.8 392.4,888.8 393.4,887.9 394.4,886.2 395.4,885.7 396.4,879.9 397.4,875.6 398.4,874.6 399.4,876.9 400.4,884.8 401.4,887.8 402.4,888.8 403.4,890.0 404.4,888.1 405.4,886.2 406.4,888.3 407.4,890.4 408.4,890.6 409.4,891.4 410.4,898.8 411.4,900.9 412.4,900.5 413.4,897.8 414.4,893.3 415.4,892.2 416.4,894.1 417.4,896.9 418.4,898.6 419.4,899.5 420.4,898.1 421.4,896.9 422.4,896.2 423.4,894.9 424.4,893.6 425.4,892.0 426.4,890.2 427.4,891.1 428.4,895.4 429.4,896.4 430.4,896.0 431.4,898.6 432.4,896.5 433.4,898.5 434.4,897.9 435.4,896.2 436.4,898.1 437.4,894.6 438.4,897.7 439.4,898.4 440.4,896.0 441.4,897.9 442.4,894.3 443.4,898.2 444.4,900.0 445.4,897.6 446.4,893.5 447.4,897.4 448.4,901.3 449.4,902.6 450.4,902.7 451.4,899.8 452.4,894.1 453.4,890.2 454.4,887.7 455.4,886.4 456.4,884.7 457.4,884.4 458.4,883.6 459.4,882.2 460.4,882.3 461.4,885.4 462.4,886.7 463.4,889.1 464.4,888.7 465.4,886.5 466.4,891.4 467.4,892.6 468.4,888.6 469.4,880.7 470.4,870.7 471.4,865.5 472.4,867.2 473.4,869.4 474.4,868.2 475.4,866.7 476.4,871.9 477.4,880.6 478.4,884.7 479.4,884.8 480.4,879.6 481.4,883.5 482.4,880.1 483.4,880.4 484.4,879.6 485.4,874.9 486.4,880.7 487.4,879.3 488.4,877.1 489.4,876.5 490.4,879.3 491.4,875.2 492.4,876.8 493.4,874.4 494.4,870.2 495.4,868.1 496.4,866.5 496.6,867.4" fill="none" stroke="#14AFEA" stroke-width="1.6" stroke-linejoin="round" stroke-linecap="round"/>
<polyline points="131.4,907.5 132.4,903.7 133.4,898.3 134.4,894.0 135.4,890.0 136.4,885.9 137.4,881.4 138.4,878.8 139.4,877.0 140.4,875.3 141.4,873.5 142.4,871.6 143.4,869.2 144.4,866.7 145.4,864.6 146.4,867.1 147.4,870.7 148.4,868.0 149.4,866.4 150.4,869.3 151.4,861.4 152.4,858.3 153.4,860.5 154.4,875.2 155.4,886.6 156.4,891.8 157.4,892.2 158.4,891.0 159.4,895.2 160.4,905.1 161.4,910.4 162.4,914.6 163.4,917.2 164.4,918.7 165.4,918.8 166.4,920.7 167.4,918.9 168.4,915.8 169.4,915.5 170.4,916.7 171.4,917.9 172.4,919.0 173.4,920.9 174.4,923.5 175.4,925.0 176.4,927.9 177.4,931.6 178.4,933.6 179.4,935.1 180.4,936.5 181.4,941.7 182.4,946.0 183.4,948.8 184.4,951.5 185.4,953.6 186.4,954.7 187.4,957.1 188.4,956.7 189.4,954.3 190.4,952.7 191.4,954.7 192.4,956.5 193.4,959.7 194.4,963.4 195.4,965.2 196.4,963.9 197.4,961.0 198.4,960.3 199.4,961.9 200.4,959.3 201.4,961.0 202.4,960.1 203.4,958.8 204.4,957.8 205.4,955.9 206.4,953.2 207.4,951.7 208.4,952.5 209.4,958.2 210.4,961.1 211.4,959.1 212.4,959.2 213.4,960.9 214.4,962.1 215.4,960.0 216.4,958.7 217.4,959.7 218.4,962.1 219.4,963.0 220.4,960.7 221.4,963.3 222.4,965.8 223.4,965.9 224.4,965.0 225.4,963.7 226.4,963.7 227.4,962.7 228.4,959.9 229.4,958.0 230.4,960.1 231.4,953.6 232.4,953.4 233.4,952.1 234.4,947.9 235.4,943.4 236.4,938.3 237.4,934.2 238.4,933.2 239.4,932.6 240.4,933.0 241.4,933.0 242.4,931.2 243.4,926.9 244.4,919.0 245.4,908.2 246.4,894.3 247.4,883.8 248.4,875.6 249.4,868.2 250.4,862.4 251.4,857.6 252.4,853.8 253.4,851.4 254.4,851.6 255.4,853.8 256.4,863.2 257.4,872.4 258.4,887.0 259.4,898.1 260.4,907.4 261.4,915.4 262.4,924.4 263.4,934.8 264.4,943.4 265.4,946.1 266.4,947.4 267.4,947.1 268.4,945.0 269.4,942.1 270.4,941.3 271.4,943.9 272.4,947.6 273.4,950.2 274.4,953.6 275.4,955.7 276.4,956.4 277.4,957.3 278.4,958.5 279.4,959.0 280.4,958.6 281.4,956.9 282.4,955.2 283.4,956.9 284.4,956.0 285.4,954.0 286.4,955.6 287.4,957.5 288.4,954.9 289.4,952.2 290.4,951.0 291.4,954.6 292.4,956.9 293.4,958.3 294.4,958.1 295.4,956.3 296.4,955.5 297.4,953.8 298.4,954.1 299.4,955.7 300.4,957.3 301.4,958.9 302.4,956.3 303.4,957.0 304.4,959.8 305.4,961.8 306.4,963.0 307.4,961.1 308.4,959.4 309.4,959.2 310.4,960.8 311.4,961.9 312.4,960.9 313.4,959.9 314.4,958.5 315.4,957.9 316.4,960.5 317.4,958.9 318.4,957.4 319.4,955.8 320.4,954.2 321.4,952.7 322.4,951.0 323.4,953.2 324.4,959.1 325.4,961.6 326.4,962.7 327.4,963.6 328.4,964.7 329.4,964.8 330.4,961.6 331.4,963.1 332.4,961.2 333.4,960.6 334.4,962.0 335.4,961.2 336.4,959.3 337.4,960.4 338.4,959.9 339.4,959.2 340.4,961.0 341.4,962.6 342.4,960.2 343.4,957.7 344.4,956.3 345.4,954.6 346.4,957.3 347.4,962.2 348.4,963.1 349.4,961.6 350.4,963.1 351.4,961.6 352.4,962.3 353.4,962.3 354.4,961.4 355.4,963.4 356.4,964.1 357.4,962.5 358.4,962.7 359.4,964.6 360.4,966.1 361.4,964.3 362.4,965.8 363.4,965.6 364.4,962.6 365.4,961.1 366.4,960.5 367.4,959.7 368.4,959.6 369.4,959.4 370.4,958.1 371.4,956.0 372.4,954.6 373.4,954.1 374.4,952.8 375.4,949.0 376.4,946.6 377.4,945.4 378.4,944.6 379.4,943.7 380.4,941.4 381.4,940.4 382.4,939.8 383.4,938.1 384.4,934.7 385.4,931.8 386.4,934.1 387.4,936.7 388.4,937.5 389.4,936.0 390.4,934.2 391.4,935.5 392.4,934.2 393.4,929.3 394.4,926.9 395.4,928.5 396.4,927.6 397.4,925.9 398.4,926.1 399.4,929.1 400.4,934.2 401.4,936.5 402.4,940.2 403.4,944.7 404.4,946.3 405.4,942.3 406.4,943.8 407.4,946.1 408.4,947.7 409.4,944.3 410.4,942.2 411.4,943.3 412.4,945.6 413.4,946.7 414.4,944.8 415.4,947.7 416.4,947.8 417.4,946.2 418.4,944.7 419.4,945.5 420.4,948.4 421.4,948.9 422.4,947.6 423.4,946.9 424.4,946.0 425.4,946.2 426.4,949.0 427.4,950.8 428.4,948.2 429.4,945.3 430.4,945.2 431.4,948.4 432.4,949.6 433.4,950.7 434.4,949.4 435.4,946.6 436.4,945.4 437.4,949.2 438.4,951.2 439.4,950.6 440.4,947.5 441.4,945.4 442.4,947.3 443.4,950.4 444.4,951.4 445.4,949.0 446.4,945.5 447.4,946.9 448.4,949.6 449.4,952.1 450.4,952.5 451.4,949.4 452.4,947.9 453.4,946.3 454.4,946.9 455.4,947.6 456.4,944.9 457.4,947.1 458.4,945.3 459.4,944.6 460.4,946.3 461.4,942.4 462.4,945.3 463.4,942.8 464.4,941.3 465.4,943.5 466.4,947.9 467.4,944.4 468.4,940.8 469.4,940.0 470.4,941.5 471.4,938.1 472.4,941.1 473.4,943.5 474.4,941.6 475.4,934.8 476.4,932.8 477.4,936.9 478.4,935.5 479.4,931.0 480.4,930.2 481.4,935.7 482.4,933.7 483.4,935.4 484.4,936.8 485.4,933.0 486.4,928.6 487.4,926.9 488.4,927.7 489.4,931.6 490.4,936.3 491.4,939.1 492.4,937.3 493.4,937.6 494.4,937.6 494.8,934.1" fill="none" stroke="#8B4A1A" stroke-width="1.6" stroke-linejoin="round" stroke-linecap="round"/>
<polyline points="126.4,955.4 127.4,967.5 128.4,970.2 129.4,966.0 130.4,960.1 131.4,960.7 132.4,963.8 133.4,968.0 134.4,967.0 135.4,960.7 136.4,957.7 137.4,962.4 138.4,965.6 139.4,964.6 140.4,958.3 141.4,954.2 142.4,952.8 143.4,954.4 144.4,958.5 145.4,961.4 146.4,958.7 147.4,960.7 148.4,963.5 149.4,963.9 150.4,962.5 151.4,959.0 152.4,953.0 153.4,950.6 154.4,949.6 155.4,951.0 156.4,955.6 157.4,962.9 158.4,969.0 159.4,972.6 160.4,974.1 161.4,976.5 162.4,974.5 163.4,976.0 164.4,979.8 165.4,981.6 166.4,979.7 167.4,974.7 168.4,974.7 169.4,978.3 170.4,985.1 171.4,986.9 172.4,983.8 173.4,979.0 174.4,978.1 175.4,982.7 176.4,986.0 177.4,989.5 178.4,989.5 179.4,985.4 180.4,979.7 181.4,983.1 182.4,986.9 183.4,988.7 184.4,989.3 185.4,990.2 186.4,993.3 187.4,995.1 188.4,994.3 189.4,992.8 190.4,996.3 191.4,997.8 192.4,997.2 193.4,995.3 194.4,993.6 195.4,995.3 196.4,997.0 197.4,996.8 198.4,996.1 199.4,994.1 200.4,991.7 201.4,993.4 202.4,995.2 203.4,995.8 204.4,994.2 205.4,995.7 206.4,997.4 207.4,995.9 208.4,994.2 209.4,995.9 210.4,997.7 211.4,993.6 212.4,992.3 213.4,994.1 214.4,995.9 215.4,997.5 216.4,996.3 217.4,994.0 218.4,994.0 219.4,997.1 220.4,995.6 221.4,996.6 222.4,996.4 223.4,995.7 224.4,997.1 225.4,997.7 226.4,996.8 227.4,995.9 228.4,994.9 229.4,992.7 230.4,985.8 231.4,985.6 232.4,984.7 233.4,983.9 234.4,983.5 235.4,983.8 236.4,983.8 237.4,983.0 238.4,982.4 239.4,982.0 240.4,980.6 241.4,979.1 242.4,976.9 243.4,974.5 244.4,971.3 245.4,967.2 246.4,960.7 247.4,953.4 248.4,943.1 249.4,930.0 250.4,913.6 251.4,899.5 252.4,890.6 253.4,885.5 254.4,884.8 255.4,895.0 256.4,904.1 257.4,911.9 258.4,920.7 259.4,932.7 260.4,951.3 261.4,965.8 262.4,976.0 263.4,980.0 264.4,984.5 265.4,986.7 266.4,987.9 267.4,988.6 268.4,988.6 269.4,989.4 270.4,991.2 271.4,992.4 272.4,994.0 273.4,991.8 274.4,992.1 275.4,996.3 276.4,998.6 277.4,996.6 278.4,993.6 279.4,991.3 280.4,991.1 281.4,993.2 282.4,994.9 283.4,992.2 284.4,991.4 285.4,993.7 286.4,995.6 287.4,994.2 288.4,991.8 289.4,991.7 290.4,993.1 291.4,994.6 292.4,995.0 293.4,995.8 294.4,995.4 295.4,993.9 296.4,992.4 297.4,993.5 298.4,995.1 299.4,995.8 300.4,996.1 301.4,996.4 302.4,996.4 303.4,996.4 304.4,997.0 305.4,998.0 306.4,997.6 307.4,996.5 308.4,996.9 309.4,997.7 310.4,998.2 311.4,997.7 312.4,998.1 313.4,997.8 314.4,997.5 315.4,997.5 316.4,996.4 317.4,995.8 318.4,995.2 319.4,994.4 320.4,993.6 321.4,992.3 322.4,994.5 323.4,996.8 324.4,997.4 325.4,997.9 326.4,997.7 327.4,998.0 328.4,998.1 329.4,998.2 330.4,997.8 331.4,998.4 332.4,999.4 333.4,999.8 334.4,999.6 335.4,999.3 336.4,999.0 337.4,999.4 338.4,999.2 339.4,998.7 340.4,998.2 341.4,997.5 342.4,997.4 343.4,997.1 344.4,998.2 345.4,999.5 346.4,999.5 347.4,1000.6 348.4,1000.7 349.4,999.5 350.4,998.5 351.4,999.3 352.4,1000.1 353.4,1001.1 354.4,1000.0 355.4,998.7 356.4,999.2 357.4,1000.4 358.4,1000.6 359.4,999.2 360.4,998.4 361.4,999.1 362.4,1000.8 363.4,1001.4 364.4,1001.0 365.4,999.6 366.4,998.7 367.4,998.3 368.4,998.5 369.4,998.8 370.4,1000.1 371.4,999.8 372.4,999.1 373.4,998.1 374.4,996.5 375.4,994.4 376.4,991.4 377.4,989.3 378.4,987.8 379.4,986.4 380.4,985.3 381.4,984.2 382.4,983.6 383.4,982.2 384.4,979.3 385.4,977.9 386.4,980.3 387.4,980.4 388.4,977.9 389.4,976.9 390.4,976.5 391.4,978.2 392.4,981.1 393.4,983.4 394.4,985.3 395.4,990.7 396.4,992.9 397.4,992.3 398.4,988.8 399.4,985.6 400.4,984.6 401.4,986.0 402.4,988.5 403.4,992.9 404.4,996.8 405.4,998.7 406.4,999.3 407.4,998.1 408.4,996.7 409.4,997.1 410.4,996.3 411.4,996.6 412.4,997.8 413.4,998.9 414.4,998.0 415.4,997.0 416.4,997.5 417.4,998.0 418.4,998.9 419.4,998.8 420.4,997.2 421.4,995.7 422.4,995.7 423.4,995.6 424.4,995.7 425.4,995.2 426.4,994.0 427.4,993.1 428.4,994.0 429.4,994.6 430.4,994.8 431.4,996.4 432.4,997.2 433.4,995.6 434.4,996.5 435.4,999.1 436.4,1000.6 437.4,998.3 438.4,993.9 439.4,993.2 440.4,995.5 441.4,997.3 442.4,999.5 443.4,997.3 444.4,994.0 445.4,992.5 446.4,994.2 447.4,996.0 448.4,997.8 449.4,998.4 450.4,998.4 451.4,998.1 452.4,998.4 453.4,997.2 454.4,995.6 455.4,994.9 456.4,993.9 457.4,993.0 458.4,994.4 459.4,996.2 460.4,996.7 461.4,996.7 462.4,997.1 463.4,997.0 464.4,996.1 465.4,994.6 466.4,995.5 467.4,997.6 468.4,997.4 469.4,996.6 470.4,995.7 471.4,996.6 472.4,997.0 473.4,998.7 474.4,999.1 475.4,995.8 476.4,993.9 477.4,995.5 478.4,993.6 479.4,991.9 480.4,994.6 481.4,998.5 482.4,997.6 483.4,994.7 484.4,992.8 485.4,991.6 486.4,989.5 487.4,987.6 488.4,989.8 489.4,993.0 490.4,993.9 491.4,991.2 492.4,994.8 493.4,994.9 494.4,990.1 495.4,988.5 496.4,987.0 497.4,988.7 498.4,993.5 499.4,995.9 500.4,994.1 501.4,990.4 502.4,986.1 502.9,985.6" fill="none" stroke="#BE1E2A" stroke-width="1.6" stroke-linejoin="round" stroke-linecap="round"/>
<polyline points="126.4,1005.7 127.4,1005.9 128.4,1003.1 129.4,998.3 130.4,996.3 131.4,999.6 132.4,997.1 133.4,993.9 134.4,992.6 135.4,990.9 136.4,988.3 137.4,984.7 138.4,983.7 139.4,983.3 140.4,982.7 141.4,982.1 142.4,980.7 143.4,979.9 144.4,978.4 145.4,977.0 146.4,980.7 147.4,978.3 148.4,974.8 149.4,974.9 150.4,977.6 151.4,984.1 152.4,989.1 153.4,989.1 154.4,987.6 155.4,988.9 156.4,990.9 157.4,991.4 158.4,993.4 159.4,996.7 160.4,1000.6 161.4,1004.9 162.4,1009.9 163.4,1014.5 164.4,1016.5 165.4,1017.4 166.4,1016.0 167.4,1013.7 168.4,1014.3 169.4,1016.1 170.4,1013.2 171.4,1016.6 172.4,1014.4 173.4,1011.3 174.4,1011.0 175.4,1013.1 176.4,1015.4 177.4,1018.1 178.4,1022.2 179.4,1026.8 180.4,1031.7 181.4,1033.6 182.4,1035.6 183.4,1037.0 184.4,1038.0 185.4,1040.2 186.4,1037.7 187.4,1040.1 188.4,1040.6 189.4,1039.5 190.4,1042.8 191.4,1041.6 192.4,1038.2 193.4,1037.7 194.4,1040.3 195.4,1047.9 196.4,1046.9 197.4,1044.5 198.4,1043.8 199.4,1045.8 200.4,1044.7 201.4,1043.2 202.4,1041.7 203.4,1040.1 204.4,1039.2 205.4,1041.9 206.4,1039.3 207.4,1036.5 208.4,1037.1 209.4,1039.9 210.4,1038.0 211.4,1040.3 212.4,1042.5 213.4,1042.5 214.4,1040.5 215.4,1044.5 216.4,1043.6 217.4,1044.3 218.4,1046.4 219.4,1048.0 220.4,1049.1 221.4,1047.5 222.4,1045.4 223.4,1044.9 224.4,1048.4 225.4,1045.4 226.4,1046.3 227.4,1045.3 228.4,1043.8 229.4,1043.2 230.4,1041.2 231.4,1038.0 232.4,1034.6 233.4,1031.5 234.4,1029.9 235.4,1028.5 236.4,1026.8 237.4,1024.6 238.4,1021.3 239.4,1017.1 240.4,1013.0 241.4,1007.8 242.4,999.8 243.4,992.0 244.4,991.8 245.4,985.7 246.4,979.6 247.4,971.8 248.4,959.8 249.4,946.2 250.4,934.8 251.4,927.1 252.4,922.6 253.4,922.8 254.4,926.9 255.4,933.0 256.4,941.4 257.4,947.4 258.4,954.5 259.4,965.1 260.4,980.2 261.4,1017.0 262.4,1025.1 263.4,1028.8 264.4,1032.6 265.4,1034.9 266.4,1033.8 267.4,1036.7 268.4,1036.2 269.4,1035.2 270.4,1033.7 271.4,1035.5 272.4,1037.2 273.4,1037.0 274.4,1038.1 275.4,1040.1 276.4,1041.1 277.4,1043.7 278.4,1045.2 279.4,1045.0 280.4,1043.8 281.4,1041.2 282.4,1039.6 283.4,1038.4 284.4,1037.7 285.4,1037.2 286.4,1038.3 287.4,1041.6 288.4,1040.1 289.4,1036.8 290.4,1034.0 291.4,1032.6 292.4,1034.6 293.4,1037.6 294.4,1040.4 295.4,1041.7 296.4,1040.0 297.4,1041.0 298.4,1040.2 299.4,1040.4 300.4,1041.6 301.4,1039.6 302.4,1038.0 303.4,1039.0 304.4,1039.9 305.4,1040.5 306.4,1040.0 307.4,1041.9 308.4,1043.7 309.4,1044.4 310.4,1042.1 311.4,1040.5 312.4,1041.9 313.4,1043.5 314.4,1044.5 315.4,1046.2 316.4,1044.7 317.4,1041.7 318.4,1039.7 319.4,1038.4 320.4,1036.9 321.4,1035.1 322.4,1036.9 323.4,1038.4 324.4,1039.5 325.4,1041.3 326.4,1043.5 327.4,1044.4 328.4,1043.9 329.4,1042.7 330.4,1040.4 331.4,1038.7 332.4,1039.8 333.4,1039.9 334.4,1039.4 335.4,1040.9 336.4,1042.0 337.4,1043.6 338.4,1043.5 339.4,1041.5 340.4,1039.7 341.4,1041.1 342.4,1042.8 343.4,1042.7 344.4,1041.5 345.4,1043.4 346.4,1044.8 347.4,1043.6 348.4,1043.6 349.4,1044.8 350.4,1043.3 351.4,1042.6 352.4,1041.6 353.4,1041.5 354.4,1043.1 355.4,1043.7 356.4,1044.1 357.4,1044.9 358.4,1045.3 359.4,1045.8 360.4,1047.1 361.4,1046.5 362.4,1044.5 363.4,1043.6 364.4,1044.3 365.4,1045.9 366.4,1045.4 367.4,1043.8 368.4,1042.7 369.4,1041.8 370.4,1040.8 371.4,1039.4 372.4,1037.6 373.4,1035.7 374.4,1033.5 375.4,1032.2 376.4,1029.7 377.4,1027.5 378.4,1025.8 379.4,1023.4 380.4,1021.4 381.4,1018.0 382.4,1014.5 383.4,1011.4 384.4,1009.5 385.4,1008.4 386.4,1009.5 387.4,1009.8 388.4,1009.5 389.4,1011.4 390.4,1010.4 391.4,1008.9 392.4,1006.0 393.4,1004.5 394.4,1007.2 395.4,1009.8 396.4,1011.5 397.4,1012.5 398.4,1012.9 399.4,1013.3 400.4,1013.0 401.4,1016.0 402.4,1020.6 403.4,1027.7 404.4,1031.2 405.4,1033.3 406.4,1034.4 407.4,1033.3 408.4,1032.2 409.4,1035.0 410.4,1032.6 411.4,1032.8 412.4,1032.5 413.4,1030.3 414.4,1033.2 415.4,1035.2 416.4,1033.7 417.4,1032.6 418.4,1033.5 419.4,1029.8 420.4,1030.7 421.4,1031.2 422.4,1032.0 423.4,1031.6 424.4,1030.8 425.4,1030.8 426.4,1032.0 427.4,1033.5 428.4,1035.0 429.4,1034.7 430.4,1033.8 431.4,1035.3 432.4,1034.1 433.4,1032.0 434.4,1031.9 435.4,1033.1 436.4,1031.8 437.4,1030.0 438.4,1033.1 439.4,1034.4 440.4,1033.1 441.4,1030.8 442.4,1029.0 443.4,1026.9 444.4,1027.1 445.4,1029.3 446.4,1034.0 447.4,1037.7 448.4,1037.6 449.4,1036.1 450.4,1034.0 451.4,1029.7 452.4,1031.5 453.4,1033.7 454.4,1033.4 455.4,1030.9 456.4,1031.9 457.4,1030.7 458.4,1029.4 459.4,1029.6 460.4,1031.5 461.4,1029.9 462.4,1028.0 463.4,1030.1 464.4,1031.7 465.4,1029.4 466.4,1026.1 467.4,1027.8 468.4,1029.8 469.4,1030.3 470.4,1028.4 471.4,1026.5 472.4,1030.5 473.4,1030.2 474.4,1027.8 475.4,1025.9 476.4,1025.3 477.4,1022.3 478.4,1022.6 479.4,1027.2 480.4,1032.5 481.4,1031.0 482.4,1029.5 483.4,1030.1 484.4,1030.4 485.4,1028.8 486.4,1028.8 487.4,1028.4 488.4,1027.8 489.4,1027.1 490.4,1026.4 491.4,1025.3 492.4,1024.4 492.8,1024.5" fill="none" stroke="#EE1C24" stroke-width="1.6" stroke-linejoin="round" stroke-linecap="round"/>
<polyline points="125.6,1006.9 126.6,1011.4 127.6,1015.4 128.6,1017.3 129.6,1015.3 130.6,1009.1 131.6,1005.0 132.6,1007.5 133.6,1007.3 134.6,1004.2 135.6,999.9 136.6,995.8 137.6,993.0 138.6,990.0 139.6,989.2 140.6,987.2 141.6,983.1 142.6,976.7 143.6,960.3 144.6,954.5 145.6,954.0 146.6,954.8 147.6,956.6 148.6,953.6 149.6,952.0 150.6,954.2 151.6,960.6 152.6,961.8 153.6,963.2 154.6,966.4 155.6,971.4 156.6,977.6 157.6,983.2 158.6,987.2 159.6,990.5 160.6,994.5 161.6,1001.9 162.6,1009.4 163.6,1013.8 164.6,1015.9 165.6,1017.9 166.6,1019.1 167.6,1021.2 168.6,1020.8 169.6,1021.2 170.6,1021.0 171.6,1019.8 172.6,1021.4 173.6,1024.4 174.6,1028.9 175.6,1034.4 176.6,1038.1 177.6,1041.7 178.6,1047.9 179.6,1053.2 180.6,1057.5 181.6,1061.0 182.6,1064.3 183.6,1066.5 184.6,1067.5 185.6,1069.0 186.6,1072.0 187.6,1073.0 188.6,1073.0 189.6,1073.1 190.6,1073.6 191.6,1075.1 192.6,1074.2 193.6,1075.0 194.6,1075.5 195.6,1075.3 196.6,1076.9 197.6,1079.0 198.6,1078.4 199.6,1076.4 200.6,1075.0 201.6,1076.4 202.6,1074.9 203.6,1073.4 204.6,1073.3 205.6,1075.1 206.6,1072.7 207.6,1070.5 208.6,1069.5 209.6,1070.0 210.6,1071.4 211.6,1074.3 212.6,1076.2 213.6,1076.8 214.6,1076.0 215.6,1077.3 216.6,1078.5 217.6,1078.6 218.6,1079.4 219.6,1080.1 220.6,1079.9 221.6,1081.4 222.6,1082.7 223.6,1082.5 224.6,1080.8 225.6,1079.0 226.6,1077.0 227.6,1075.4 228.6,1073.9 229.6,1072.1 230.6,1070.4 231.6,1068.7 232.6,1066.4 233.6,1065.5 234.6,1064.3 235.6,1062.7 236.6,1061.0 237.6,1060.2 238.6,1059.0 239.6,1056.9 240.6,1054.2 241.6,1050.9 242.6,1046.7 243.6,1036.7 244.6,1021.3 245.6,1003.8 246.6,991.2 247.6,983.4 248.6,978.2 249.6,974.0 250.6,971.5 251.6,970.2 252.6,969.0 253.6,968.4 254.6,969.0 255.6,974.1 256.6,984.6 257.6,998.1 258.6,1013.9 259.6,1031.0 260.6,1044.0 261.6,1055.3 262.6,1063.3 263.6,1068.9 264.6,1071.2 265.6,1073.1 266.6,1075.1 267.6,1074.5 268.6,1073.7 269.6,1073.1 270.6,1074.5 271.6,1074.4 272.6,1074.4 273.6,1076.3 274.6,1077.6 275.6,1077.5 276.6,1078.1 277.6,1079.4 278.6,1081.6 279.6,1081.1 280.6,1078.9 281.6,1078.2 282.6,1078.8 283.6,1079.2 284.6,1078.7 285.6,1079.4 286.6,1080.0 287.6,1077.7 288.6,1076.3 289.6,1077.9 290.6,1079.5 291.6,1079.6 292.6,1077.3 293.6,1079.9 294.6,1082.7 295.6,1084.5 296.6,1085.7 297.6,1083.7 298.6,1081.6 299.6,1081.6 300.6,1084.2 301.6,1085.6 302.6,1083.1 303.6,1082.1 304.6,1082.3 305.6,1083.0 306.6,1084.2 307.6,1086.3 308.6,1087.6 309.6,1088.8 310.6,1088.9 311.6,1087.8 312.6,1086.9 313.6,1087.9 314.6,1089.7 315.6,1089.5 316.6,1087.6 317.6,1086.0 318.6,1087.7 319.6,1088.7 320.6,1089.1 321.6,1088.2 322.6,1090.0 323.6,1092.2 324.6,1091.7 325.6,1090.2 326.6,1091.2 327.6,1091.9 328.6,1090.6 329.6,1090.8 330.6,1092.2 331.6,1093.4 332.6,1094.9 333.6,1094.2 334.6,1093.0 335.6,1092.0 336.6,1093.3 337.6,1094.9 338.6,1093.8 339.6,1093.4 340.6,1094.7 341.6,1096.1 342.6,1094.9 343.6,1095.9 344.6,1097.4 345.6,1098.2 346.6,1096.6 347.6,1095.2 348.6,1095.2 349.6,1096.1 350.6,1097.2 351.6,1096.0 352.6,1097.9 353.6,1097.0 354.6,1096.5 355.6,1097.6 356.6,1098.6 357.6,1097.0 358.6,1097.5 359.6,1098.2 360.6,1096.6 361.6,1095.5 362.6,1097.1 363.6,1095.3 364.6,1094.9 365.6,1096.6 366.6,1094.6 367.6,1093.6 368.6,1094.8 369.6,1095.6 370.6,1094.6 371.6,1092.1 372.6,1089.7 373.6,1088.0 374.6,1086.6 375.6,1084.5 376.6,1083.9 377.6,1083.0 378.6,1081.9 379.6,1080.5 380.6,1078.4 381.6,1076.4 382.6,1074.7 383.6,1072.8 384.6,1070.3 385.6,1066.5 386.6,1063.1 387.6,1061.3 388.6,1060.7 389.6,1061.6 390.6,1064.6 391.6,1065.6 392.6,1066.6 393.6,1067.4 394.6,1068.6 395.6,1070.8 396.6,1068.1 397.6,1070.3 398.6,1072.4 399.6,1072.9 400.6,1075.1 401.6,1078.7 402.6,1082.4 403.6,1085.1 404.6,1087.1 405.6,1087.7 406.6,1088.2 407.6,1087.7 408.6,1087.0 409.6,1088.0 410.6,1090.3 411.6,1089.7 412.6,1088.7 413.6,1088.4 414.6,1088.7 415.6,1089.0 416.6,1089.8 417.6,1090.8 418.6,1092.4 419.6,1092.9 420.6,1092.6 421.6,1092.3 422.6,1092.5 423.6,1092.4 424.6,1093.4 425.6,1092.0 426.6,1091.2 427.6,1092.6 428.6,1093.2 429.6,1094.5 430.6,1094.0 431.6,1091.9 432.6,1090.6 433.6,1088.7 434.6,1089.5 435.6,1091.9 436.6,1092.5 437.6,1088.9 438.6,1090.5 439.6,1092.5 440.6,1092.1 441.6,1089.8 442.6,1088.3 443.6,1091.2 444.6,1093.7 445.6,1095.1 446.6,1095.3 447.6,1094.1 448.6,1092.6 449.6,1092.8 450.6,1093.0 451.6,1090.7 452.6,1088.5 453.6,1090.4 454.6,1089.7 455.6,1088.1 456.6,1086.9 457.6,1090.5 458.6,1089.7 459.6,1090.9 460.6,1090.5 461.6,1088.2 462.6,1090.1 463.6,1091.7 464.6,1090.8 465.6,1089.9 466.6,1091.7 467.6,1091.3 468.6,1091.3 469.6,1092.0 470.6,1092.4 471.6,1090.3 472.6,1083.1 473.6,1083.7 474.6,1085.8 475.6,1089.4 476.6,1090.9 477.6,1091.1 478.6,1092.5 479.6,1091.6 480.6,1090.0 481.6,1088.8 482.6,1090.5 483.6,1092.3 484.6,1091.8 485.6,1091.8 486.6,1094.0 487.6,1086.4 488.6,1087.4 489.6,1090.5 490.6,1090.6 491.6,1087.7 492.6,1089.3 493.6,1091.1 494.6,1090.4 495.6,1087.8 496.6,1088.6 497.6,1090.3 498.6,1091.2 499.6,1091.7 500.6,1091.1 501.6,1094.1 502.6,1091.3 502.9,1091.0" fill="none" stroke="#000000" stroke-width="1.6" stroke-linejoin="round" stroke-linecap="round"/>
<line x1="110.8" y1="1103.6" x2="503.5" y2="1103.6" stroke="#333" stroke-width="1.2"/>
<line x1="110.8" y1="1103.6" x2="110.8" y2="1109.1" stroke="#333" stroke-width="1"/>
<text x="111.8" y="1128.6" font-size="16" text-anchor="middle" >0</text>
<line x1="219.6" y1="1103.6" x2="219.6" y2="1109.1" stroke="#333" stroke-width="1"/>
<text x="217.5" y="1128.6" font-size="16" text-anchor="middle" >500</text>
<line x1="328.3" y1="1103.6" x2="328.3" y2="1109.1" stroke="#333" stroke-width="1"/>
<text x="329.4" y="1128.6" font-size="16" text-anchor="middle" >1000</text>
<line x1="437.1" y1="1103.6" x2="437.1" y2="1109.1" stroke="#333" stroke-width="1"/>
<text x="434" y="1128.6" font-size="16" text-anchor="middle" >1500</text>
<text x="323.5" y="1149" font-size="18" text-anchor="middle" >Wavenumber (cm<tspan dy="-6.5" font-size="11.5">-1</tspan><tspan dy="6.5">)</tspan></text>
<text x="98.3" y="639.4" font-size="18.5" text-anchor="start" font-weight="bold">(B)</text>
<text x="521.7" y="754.3" font-size="16" text-anchor="start" >intact</text>
<text x="519.2" y="784" font-size="16" text-anchor="start" >400 ºC</text>
<text x="520" y="812" font-size="16" text-anchor="start" >500 ºC</text>
<text x="519.2" y="840.5" font-size="16" text-anchor="start" >600 ºC</text>
<text x="520" y="881" font-size="16" text-anchor="start" >700 ºC</text>
<text x="519.2" y="945.8" font-size="16" text-anchor="start" >800 ºC</text>
<text x="519.2" y="996" font-size="16" text-anchor="start" >900 ºC</text>
<text x="513.4" y="1035.2" font-size="16" text-anchor="start" >1000 ºC</text>
<text x="518" y="1093.4" font-size="16" text-anchor="start" >HAp</text>
<text transform="translate(392.5,685) rotate(-90)" font-size="16" text-anchor="start">amide III</text>
<text transform="translate(437,656) rotate(-90)" font-size="16" text-anchor="start">δ (CH<tspan dy="3" font-size="10.5">2</tspan><tspan dy="-3">)</tspan></text>
<text transform="translate(460.3,720.3) rotate(-90)" font-size="16" text-anchor="start">amide II</text>
<text transform="translate(483.7,718.2) rotate(-90)" font-size="16" text-anchor="start">amide I</text>
<text transform="translate(254.5,1093.5) rotate(-90)" font-size="16" text-anchor="start">(OH)<tspan dy="3.5" font-size="10.5">lib</tspan></text>
<text x="371.8" y="1059" font-size="14.3" text-anchor="start" >1<tspan dy="-5.5" font-size="10">st</tspan><tspan dy="5.5"> overt</tspan></text>
</svg></body></html>
